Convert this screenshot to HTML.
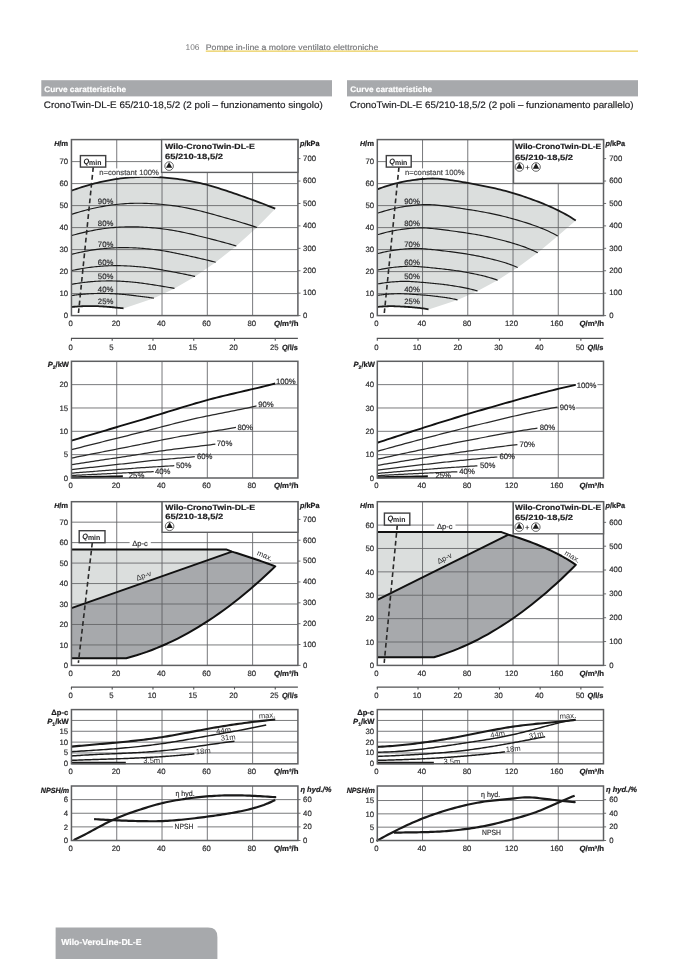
<!DOCTYPE html>
<html><head><meta charset="utf-8"><title>Curve caratteristiche</title>
<style>
html,body{margin:0;padding:0;background:#fff;}
svg{display:block;will-change:transform;font-family:'Liberation Sans', sans-serif;}
</style></head>
<body>
<svg width="678" height="959" viewBox="0 0 678 959" text-rendering="geometricPrecision">
<rect x="0" y="0" width="678" height="959" fill="#fff"/>
<text x="185.50" y="49.80" font-size="8.4" font-weight="normal" font-style="normal" text-anchor="start" fill="#77787b"  >106</text>
<text x="205.80" y="49.80" font-size="8.0" font-weight="normal" font-style="normal" text-anchor="start" fill="#77787b" stroke="#77787b" stroke-width="0.18" textLength="172.5" lengthAdjust="spacingAndGlyphs">Pompe in-line a motore ventilato elettroniche</text>
<rect x="205.8" y="50.5" width="432.2" height="1.3" fill="#ecd060"/>
<rect x="41.3" y="80.2" width="290.7" height="16.2" fill="#a7a9ac"/>
<text x="44.30" y="92.30" font-size="8.0" font-weight="bold" font-style="normal" text-anchor="start" fill="#fff" stroke="#fff" stroke-width="0.18" textLength="81.7" lengthAdjust="spacingAndGlyphs">Curve caratteristiche</text>
<text x="43.80" y="108.40" font-size="9.4" font-weight="normal" font-style="normal" text-anchor="start" fill="#1e1e20" stroke="#1e1e20" stroke-width="0.18" textLength="279.0" lengthAdjust="spacingAndGlyphs">CronoTwin-DL-E 65/210-18,5/2 (2 poli – funzionamento singolo)</text>
<rect x="347" y="80.2" width="291" height="16.2" fill="#a7a9ac"/>
<text x="350.30" y="92.30" font-size="8.0" font-weight="bold" font-style="normal" text-anchor="start" fill="#fff" stroke="#fff" stroke-width="0.18" textLength="81.7" lengthAdjust="spacingAndGlyphs">Curve caratteristiche</text>
<text x="349.80" y="108.40" font-size="9.4" font-weight="normal" font-style="normal" text-anchor="start" fill="#1e1e20" stroke="#1e1e20" stroke-width="0.18" textLength="283.8" lengthAdjust="spacingAndGlyphs">CronoTwin-DL-E 65/210-18,5/2 (2 poli – funzionamento parallelo)</text>
<path d="M71.45,190.64 L74.03,189.73 L76.61,188.84 L79.19,187.98 L81.77,187.15 L84.35,186.35 L86.93,185.58 L89.51,184.84 L92.09,184.13 L94.67,183.45 L97.25,182.80 L99.83,182.19 L102.41,181.61 L104.99,181.05 L107.57,180.54 L110.15,180.06 L112.73,179.61 L115.31,179.19 L117.89,178.82 L120.47,178.47 L123.05,178.17 L125.63,177.89 L128.21,177.66 L130.79,177.45 L133.37,177.28 L135.95,177.14 L138.53,177.03 L141.10,176.95 L143.68,176.91 L146.26,176.89 L148.84,176.90 L151.42,176.95 L154.00,177.02 L156.58,177.13 L159.16,177.26 L161.74,177.42 L164.32,177.61 L166.90,177.83 L169.48,178.07 L172.06,178.35 L174.64,178.65 L177.22,178.98 L179.80,179.33 L182.38,179.72 L184.96,180.13 L187.54,180.57 L190.12,181.03 L192.70,181.53 L195.28,182.05 L197.86,182.61 L200.44,183.19 L203.02,183.81 L205.60,184.47 L208.18,185.15 L210.76,185.87 L213.34,186.62 L215.92,187.40 L218.50,188.20 L221.08,189.02 L223.66,189.86 L226.24,190.71 L228.82,191.57 L231.40,192.44 L233.98,193.32 L236.56,194.20 L239.14,195.09 L241.72,195.99 L244.30,196.89 L246.88,197.81 L249.46,198.73 L252.04,199.67 L254.62,200.62 L257.20,201.58 L259.78,202.55 L262.36,203.53 L264.94,204.53 L267.52,205.55 L270.10,206.57 L272.68,207.62 L275.25,208.68 L256.91,227.44 L236.31,245.95 L215.70,262.27 L195.09,276.42 L174.48,288.39 L153.88,298.19 L123.53,308.39 L122.40,308.25 L121.76,308.18 L121.11,308.11 L120.47,308.04 L119.82,307.97 L119.18,307.90 L118.53,307.83 L117.89,307.77 L117.24,307.70 L116.60,307.64 L115.95,307.57 L115.31,307.51 L114.66,307.44 L114.02,307.38 L113.37,307.32 L112.73,307.26 L112.08,307.20 L111.44,307.14 L110.79,307.08 L110.15,307.02 L109.50,306.96 L108.86,306.90 L108.21,306.85 L107.57,306.79 L106.92,306.74 L106.28,306.69 L105.63,306.64 L104.99,306.59 L104.34,306.55 L103.70,306.50 L103.05,306.46 L102.41,306.43 L101.76,306.39 L101.12,306.36 L100.47,306.32 L99.83,306.29 L99.18,306.26 L98.54,306.24 L97.89,306.21 L97.25,306.19 L96.60,306.17 L95.96,306.15 L95.31,306.14 L94.67,306.12 L94.02,306.11 L93.38,306.10 L92.73,306.09 L92.09,306.08 L91.44,306.07 L90.80,306.07 L90.15,306.07 L89.51,306.07 L88.86,306.07 L88.22,306.08 L87.57,306.09 L86.93,306.10 L86.28,306.11 L85.64,306.12 L84.99,306.14 L84.35,306.16 L83.70,306.18 L83.06,306.20 L82.41,306.23 L81.77,306.26 L81.12,306.29 L80.48,306.32 L79.83,306.36 L79.19,306.39 L78.54,306.43 L77.90,306.48 L77.25,306.52 L76.61,306.57 L75.96,306.62 L75.32,306.67 L74.67,306.72 L74.03,306.78 L73.38,306.83 L72.74,306.89 L72.09,306.95 L71.45,307.02 Z" fill="#dbdedd"/>
<line x1="116.74" y1="139.60" x2="116.74" y2="315.60" stroke="#56575a" stroke-width="0.8"/>
<line x1="162.03" y1="139.60" x2="162.03" y2="315.60" stroke="#56575a" stroke-width="0.8"/>
<line x1="207.32" y1="139.60" x2="207.32" y2="315.60" stroke="#56575a" stroke-width="0.8"/>
<line x1="252.61" y1="139.60" x2="252.61" y2="315.60" stroke="#56575a" stroke-width="0.8"/>
<line x1="71.45" y1="293.60" x2="297.90" y2="293.60" stroke="#626366" stroke-width="0.85"/>
<line x1="71.45" y1="271.60" x2="297.90" y2="271.60" stroke="#626366" stroke-width="0.85"/>
<line x1="71.45" y1="249.60" x2="297.90" y2="249.60" stroke="#626366" stroke-width="0.85"/>
<line x1="71.45" y1="227.60" x2="297.90" y2="227.60" stroke="#626366" stroke-width="0.85"/>
<line x1="71.45" y1="205.60" x2="297.90" y2="205.60" stroke="#626366" stroke-width="0.85"/>
<line x1="71.45" y1="183.60" x2="297.90" y2="183.60" stroke="#626366" stroke-width="0.85"/>
<line x1="71.45" y1="161.60" x2="297.90" y2="161.60" stroke="#626366" stroke-width="0.85"/>
<path d="M71.45,190.64 L74.03,189.73 L76.61,188.84 L79.19,187.98 L81.77,187.15 L84.35,186.35 L86.93,185.58 L89.51,184.84 L92.09,184.13 L94.67,183.45 L97.25,182.80 L99.83,182.19 L102.41,181.61 L104.99,181.05 L107.57,180.54 L110.15,180.06 L112.73,179.61 L115.31,179.19 L117.89,178.82 L120.47,178.47 L123.05,178.17 L125.63,177.89 L128.21,177.66 L130.79,177.45 L133.37,177.28 L135.95,177.14 L138.53,177.03 L141.10,176.95 L143.68,176.91 L146.26,176.89 L148.84,176.90 L151.42,176.95 L154.00,177.02 L156.58,177.13 L159.16,177.26 L161.74,177.42 L164.32,177.61 L166.90,177.83 L169.48,178.07 L172.06,178.35 L174.64,178.65 L177.22,178.98 L179.80,179.33 L182.38,179.72 L184.96,180.13 L187.54,180.57 L190.12,181.03 L192.70,181.53 L195.28,182.05 L197.86,182.61 L200.44,183.19 L203.02,183.81 L205.60,184.47 L208.18,185.15 L210.76,185.87 L213.34,186.62 L215.92,187.40 L218.50,188.20 L221.08,189.02 L223.66,189.86 L226.24,190.71 L228.82,191.57 L231.40,192.44 L233.98,193.32 L236.56,194.20 L239.14,195.09 L241.72,195.99 L244.30,196.89 L246.88,197.81 L249.46,198.73 L252.04,199.67 L254.62,200.62 L257.20,201.58 L259.78,202.55 L262.36,203.53 L264.94,204.53 L267.52,205.55 L270.10,206.57 L272.68,207.62 L275.25,208.68" fill="none" stroke="#1a1a1a" stroke-width="1.8" stroke-linecap="butt" stroke-linejoin="round"/>
<path d="M71.45,214.38 L73.80,213.63 L76.15,212.91 L78.49,212.21 L80.84,211.53 L83.19,210.87 L85.54,210.24 L87.88,209.64 L90.23,209.06 L92.58,208.51 L94.93,207.98 L97.27,207.48 L99.62,207.00 L101.97,206.56 L104.32,206.14 L106.66,205.75 L109.01,205.38 L111.36,205.05 L113.71,204.75 L116.05,204.47 L118.40,204.23 L120.75,204.01 L123.10,203.82 L125.45,203.66 L127.79,203.53 L130.14,203.42 L132.49,203.34 L134.84,203.28 L137.18,203.25 L139.53,203.25 L141.88,203.27 L144.23,203.31 L146.57,203.38 L148.92,203.47 L151.27,203.59 L153.62,203.73 L155.96,203.89 L158.31,204.08 L160.66,204.28 L163.01,204.51 L165.36,204.75 L167.70,205.02 L170.05,205.30 L172.40,205.61 L174.75,205.94 L177.09,206.28 L179.44,206.65 L181.79,207.04 L184.14,207.45 L186.48,207.89 L188.83,208.35 L191.18,208.84 L193.53,209.35 L195.87,209.88 L198.22,210.44 L200.57,211.03 L202.92,211.62 L205.26,212.24 L207.61,212.87 L209.96,213.51 L212.31,214.15 L214.66,214.80 L217.00,215.45 L219.35,216.11 L221.70,216.77 L224.05,217.43 L226.39,218.10 L228.74,218.77 L231.09,219.45 L233.44,220.13 L235.78,220.82 L238.13,221.52 L240.48,222.23 L242.83,222.94 L245.17,223.67 L247.52,224.40 L249.87,225.15 L252.22,225.90 L254.56,226.67 L256.91,227.44" fill="none" stroke="#1a1a1a" stroke-width="1.15" stroke-linecap="butt" stroke-linejoin="round"/>
<path d="M71.45,235.63 L73.54,235.03 L75.62,234.46 L77.71,233.91 L79.80,233.37 L81.88,232.85 L83.97,232.36 L86.06,231.88 L88.14,231.42 L90.23,230.98 L92.32,230.57 L94.40,230.17 L96.49,229.80 L98.58,229.44 L100.66,229.11 L102.75,228.80 L104.84,228.52 L106.93,228.25 L109.01,228.01 L111.10,227.80 L113.19,227.60 L115.27,227.43 L117.36,227.28 L119.45,227.15 L121.53,227.05 L123.62,226.96 L125.71,226.90 L127.79,226.85 L129.88,226.83 L131.97,226.83 L134.05,226.84 L136.14,226.88 L138.23,226.93 L140.31,227.01 L142.40,227.10 L144.49,227.21 L146.57,227.34 L148.66,227.48 L150.75,227.64 L152.83,227.82 L154.92,228.02 L157.01,228.23 L159.09,228.45 L161.18,228.69 L163.27,228.95 L165.36,229.23 L167.44,229.52 L169.53,229.83 L171.62,230.15 L173.70,230.50 L175.79,230.86 L177.88,231.24 L179.96,231.65 L182.05,232.07 L184.14,232.51 L186.22,232.97 L188.31,233.45 L190.40,233.93 L192.48,234.43 L194.57,234.93 L196.66,235.44 L198.74,235.96 L200.83,236.47 L202.92,236.99 L205.00,237.51 L207.09,238.03 L209.18,238.56 L211.26,239.09 L213.35,239.63 L215.44,240.17 L217.52,240.71 L219.61,241.27 L221.70,241.82 L223.78,242.39 L225.87,242.96 L227.96,243.54 L230.05,244.13 L232.13,244.73 L234.22,245.33 L236.31,245.95" fill="none" stroke="#1a1a1a" stroke-width="1.15" stroke-linecap="butt" stroke-linejoin="round"/>
<path d="M71.45,254.37 L73.28,253.92 L75.10,253.48 L76.93,253.05 L78.75,252.64 L80.58,252.25 L82.41,251.87 L84.23,251.50 L86.06,251.15 L87.88,250.81 L89.71,250.50 L91.54,250.19 L93.36,249.91 L95.19,249.64 L97.01,249.38 L98.84,249.15 L100.66,248.93 L102.49,248.72 L104.32,248.54 L106.14,248.38 L107.97,248.23 L109.79,248.10 L111.62,247.98 L113.45,247.88 L115.27,247.80 L117.10,247.74 L118.92,247.69 L120.75,247.65 L122.58,247.64 L124.40,247.63 L126.23,247.65 L128.05,247.67 L129.88,247.71 L131.71,247.77 L133.53,247.84 L135.36,247.93 L137.18,248.02 L139.01,248.14 L140.84,248.26 L142.66,248.39 L144.49,248.54 L146.31,248.70 L148.14,248.88 L149.97,249.06 L151.79,249.26 L153.62,249.47 L155.44,249.69 L157.27,249.93 L159.09,250.18 L160.92,250.44 L162.75,250.72 L164.57,251.01 L166.40,251.32 L168.22,251.65 L170.05,251.99 L171.88,252.34 L173.70,252.70 L175.53,253.07 L177.35,253.45 L179.18,253.84 L181.01,254.23 L182.83,254.62 L184.66,255.02 L186.48,255.41 L188.31,255.81 L190.14,256.21 L191.96,256.62 L193.79,257.02 L195.61,257.43 L197.44,257.85 L199.27,258.27 L201.09,258.69 L202.92,259.12 L204.74,259.55 L206.57,259.99 L208.39,260.43 L210.22,260.88 L212.05,261.34 L213.87,261.80 L215.70,262.27" fill="none" stroke="#1a1a1a" stroke-width="1.15" stroke-linecap="butt" stroke-linejoin="round"/>
<path d="M71.45,270.61 L73.02,270.28 L74.58,269.96 L76.15,269.65 L77.71,269.35 L79.28,269.06 L80.84,268.78 L82.41,268.51 L83.97,268.25 L85.54,268.00 L87.10,267.77 L88.67,267.55 L90.23,267.33 L91.80,267.14 L93.36,266.95 L94.93,266.78 L96.49,266.62 L98.06,266.47 L99.62,266.33 L101.19,266.21 L102.75,266.10 L104.32,266.00 L105.88,265.92 L107.45,265.85 L109.01,265.79 L110.58,265.74 L112.14,265.71 L113.71,265.68 L115.27,265.67 L116.84,265.67 L118.40,265.67 L119.97,265.69 L121.53,265.72 L123.10,265.77 L124.66,265.82 L126.23,265.88 L127.79,265.95 L129.36,266.03 L130.92,266.12 L132.49,266.22 L134.05,266.33 L135.62,266.45 L137.18,266.58 L138.75,266.72 L140.31,266.86 L141.88,267.01 L143.44,267.18 L145.01,267.35 L146.57,267.54 L148.14,267.73 L149.70,267.93 L151.27,268.15 L152.83,268.38 L154.40,268.61 L155.96,268.86 L157.53,269.12 L159.09,269.39 L160.66,269.66 L162.22,269.94 L163.79,270.22 L165.36,270.51 L166.92,270.80 L168.49,271.09 L170.05,271.38 L171.62,271.67 L173.18,271.97 L174.75,272.26 L176.31,272.56 L177.88,272.87 L179.44,273.17 L181.01,273.48 L182.57,273.79 L184.14,274.10 L185.70,274.42 L187.27,274.74 L188.83,275.07 L190.40,275.40 L191.96,275.73 L193.53,276.07 L195.09,276.42" fill="none" stroke="#1a1a1a" stroke-width="1.15" stroke-linecap="butt" stroke-linejoin="round"/>
<path d="M71.45,284.36 L72.75,284.13 L74.06,283.91 L75.36,283.69 L76.67,283.48 L77.97,283.28 L79.28,283.08 L80.58,282.90 L81.88,282.72 L83.19,282.55 L84.49,282.38 L85.80,282.23 L87.10,282.08 L88.41,281.94 L89.71,281.82 L91.01,281.69 L92.32,281.58 L93.62,281.48 L94.93,281.39 L96.23,281.30 L97.53,281.23 L98.84,281.16 L100.14,281.10 L101.45,281.05 L102.75,281.01 L104.06,280.98 L105.36,280.95 L106.66,280.93 L107.97,280.92 L109.27,280.92 L110.58,280.93 L111.88,280.94 L113.19,280.96 L114.49,280.99 L115.79,281.03 L117.10,281.07 L118.40,281.12 L119.71,281.18 L121.01,281.24 L122.32,281.31 L123.62,281.39 L124.92,281.47 L126.23,281.56 L127.53,281.65 L128.84,281.75 L130.14,281.86 L131.44,281.97 L132.75,282.09 L134.05,282.22 L135.36,282.36 L136.66,282.50 L137.97,282.65 L139.27,282.81 L140.57,282.97 L141.88,283.14 L143.18,283.32 L144.49,283.51 L145.79,283.70 L147.10,283.89 L148.40,284.09 L149.70,284.29 L151.01,284.49 L152.31,284.69 L153.62,284.89 L154.92,285.10 L156.23,285.30 L157.53,285.51 L158.83,285.71 L160.14,285.92 L161.44,286.13 L162.75,286.35 L164.05,286.56 L165.36,286.78 L166.66,287.00 L167.96,287.23 L169.27,287.45 L170.57,287.68 L171.88,287.91 L173.18,288.15 L174.48,288.39" fill="none" stroke="#1a1a1a" stroke-width="1.15" stroke-linecap="butt" stroke-linejoin="round"/>
<path d="M71.45,295.61 L72.49,295.46 L73.54,295.32 L74.58,295.18 L75.62,295.04 L76.67,294.91 L77.71,294.79 L78.75,294.67 L79.80,294.56 L80.84,294.45 L81.88,294.34 L82.93,294.24 L83.97,294.15 L85.01,294.06 L86.06,293.98 L87.10,293.90 L88.14,293.83 L89.19,293.76 L90.23,293.70 L91.27,293.65 L92.32,293.60 L93.36,293.56 L94.40,293.52 L95.45,293.49 L96.49,293.46 L97.53,293.44 L98.58,293.42 L99.62,293.41 L100.66,293.41 L101.71,293.41 L102.75,293.41 L103.80,293.42 L104.84,293.43 L105.88,293.45 L106.93,293.47 L107.97,293.50 L109.01,293.53 L110.06,293.57 L111.10,293.61 L112.14,293.66 L113.19,293.70 L114.23,293.76 L115.27,293.81 L116.32,293.87 L117.36,293.94 L118.40,294.01 L119.45,294.08 L120.49,294.16 L121.53,294.24 L122.58,294.32 L123.62,294.41 L124.66,294.51 L125.71,294.61 L126.75,294.72 L127.79,294.83 L128.84,294.94 L129.88,295.06 L130.92,295.18 L131.97,295.31 L133.01,295.43 L134.05,295.56 L135.10,295.69 L136.14,295.82 L137.18,295.95 L138.23,296.08 L139.27,296.21 L140.31,296.34 L141.36,296.47 L142.40,296.61 L143.44,296.74 L144.49,296.88 L145.53,297.02 L146.57,297.16 L147.62,297.30 L148.66,297.44 L149.70,297.59 L150.75,297.73 L151.79,297.88 L152.83,298.03 L153.88,298.19" fill="none" stroke="#1a1a1a" stroke-width="1.15" stroke-linecap="butt" stroke-linejoin="round"/>
<path d="M71.45,307.02 L72.79,306.89 L74.12,306.77 L75.46,306.66 L76.79,306.55 L78.13,306.46 L79.46,306.38 L80.80,306.30 L82.13,306.24 L83.47,306.19 L84.80,306.14 L86.14,306.11 L87.48,306.09 L88.81,306.08 L90.15,306.07 L91.48,306.07 L92.82,306.09 L94.15,306.11 L95.49,306.14 L96.82,306.18 L98.16,306.22 L99.49,306.28 L100.83,306.34 L102.17,306.41 L103.50,306.49 L104.84,306.58 L106.17,306.68 L107.51,306.79 L108.84,306.90 L110.18,307.02 L111.51,307.15 L112.85,307.27 L114.19,307.40 L115.52,307.53 L116.86,307.66 L118.19,307.80 L119.53,307.94 L120.86,308.08 L122.20,308.23 L123.53,308.39" fill="none" stroke="#1a1a1a" stroke-width="1.8" stroke-linecap="butt" stroke-linejoin="round"/>
<rect x="71.45" y="139.60" width="226.45" height="176.00" fill="none" stroke="#5e5f61" stroke-width="1.5"/>
<rect x="161.60" y="139.60" width="136.30" height="32.80" fill="#fff" stroke="#5e5f61" stroke-width="1.4"/>
<text x="165.00" y="148.70" font-size="7.7" font-weight="bold" font-style="normal" text-anchor="start" fill="#1a1a1c" stroke="#1a1a1c" stroke-width="0.18" textLength="89.8" lengthAdjust="spacingAndGlyphs">Wilo-CronoTwin-DL-E</text>
<text x="165.00" y="158.80" font-size="7.7" font-weight="bold" font-style="normal" text-anchor="start" fill="#1a1a1c" stroke="#1a1a1c" stroke-width="0.18" textLength="58.0" lengthAdjust="spacingAndGlyphs">65/210-18,5/2</text>
<circle cx="169.10" cy="166.10" r="4.3" fill="#fff" stroke="#333" stroke-width="0.75"/>
<path d="M169.10,162.15 L172.28,167.82 L165.92,167.82 Z" fill="#1a1a1a"/>
<line x1="93.25" y1="167.10" x2="78.47" y2="313.00" stroke="#2a2a2a" stroke-width="1.6" stroke-dasharray="4.8 3.09"/>
<rect x="80.40" y="155.60" width="25.30" height="11.50" fill="#fff" stroke="#404042" stroke-width="1.4"/>
<text x="83.40" y="163.50" font-size="7.8" font-weight="bold" fill="#1c1c1e" textLength="18" lengthAdjust="spacingAndGlyphs"><tspan font-style="italic">Q</tspan><tspan dy="1.2" font-size="7.4">min</tspan></text>
<text x="97.85" y="204.30" font-size="7.75" font-weight="normal" font-style="normal" text-anchor="start" fill="#2c2c2e" stroke="#2c2c2e" stroke-width="0.18" >90%</text>
<text x="97.85" y="226.00" font-size="7.75" font-weight="normal" font-style="normal" text-anchor="start" fill="#2c2c2e" stroke="#2c2c2e" stroke-width="0.18" >80%</text>
<text x="97.85" y="246.60" font-size="7.75" font-weight="normal" font-style="normal" text-anchor="start" fill="#2c2c2e" stroke="#2c2c2e" stroke-width="0.18" >70%</text>
<text x="97.85" y="264.60" font-size="7.75" font-weight="normal" font-style="normal" text-anchor="start" fill="#2c2c2e" stroke="#2c2c2e" stroke-width="0.18" >60%</text>
<text x="97.85" y="279.20" font-size="7.75" font-weight="normal" font-style="normal" text-anchor="start" fill="#2c2c2e" stroke="#2c2c2e" stroke-width="0.18" >50%</text>
<text x="97.85" y="291.60" font-size="7.75" font-weight="normal" font-style="normal" text-anchor="start" fill="#2c2c2e" stroke="#2c2c2e" stroke-width="0.18" >40%</text>
<text x="97.85" y="304.40" font-size="7.75" font-weight="normal" font-style="normal" text-anchor="start" fill="#2c2c2e" stroke="#2c2c2e" stroke-width="0.18" >25%</text>
<rect x="98.40" y="168.4" width="61.2" height="8.4" fill="#fff"/>
<text x="99.20" y="174.80" font-size="7.7" font-weight="normal" font-style="normal" text-anchor="start" fill="#48484a" stroke="#48484a" stroke-width="0.18" textLength="59.6" lengthAdjust="spacingAndGlyphs">n=constant 100%</text>
<text x="68.15" y="318.40" font-size="7.75" font-weight="normal" font-style="normal" text-anchor="end" fill="#2c2c2e" stroke="#2c2c2e" stroke-width="0.18" >0</text>
<text x="68.15" y="296.40" font-size="7.75" font-weight="normal" font-style="normal" text-anchor="end" fill="#2c2c2e" stroke="#2c2c2e" stroke-width="0.18" >10</text>
<text x="68.15" y="274.40" font-size="7.75" font-weight="normal" font-style="normal" text-anchor="end" fill="#2c2c2e" stroke="#2c2c2e" stroke-width="0.18" >20</text>
<text x="68.15" y="252.40" font-size="7.75" font-weight="normal" font-style="normal" text-anchor="end" fill="#2c2c2e" stroke="#2c2c2e" stroke-width="0.18" >30</text>
<text x="68.15" y="230.40" font-size="7.75" font-weight="normal" font-style="normal" text-anchor="end" fill="#2c2c2e" stroke="#2c2c2e" stroke-width="0.18" >40</text>
<text x="68.15" y="208.40" font-size="7.75" font-weight="normal" font-style="normal" text-anchor="end" fill="#2c2c2e" stroke="#2c2c2e" stroke-width="0.18" >50</text>
<text x="68.15" y="186.40" font-size="7.75" font-weight="normal" font-style="normal" text-anchor="end" fill="#2c2c2e" stroke="#2c2c2e" stroke-width="0.18" >60</text>
<text x="68.15" y="164.40" font-size="7.75" font-weight="normal" font-style="normal" text-anchor="end" fill="#2c2c2e" stroke="#2c2c2e" stroke-width="0.18" >70</text>
<text x="68.15" y="145.80" font-size="7.5" font-weight="bold" font-style="normal" text-anchor="end" fill="#1c1c1e" stroke="#1c1c1e" stroke-width="0.22" textLength="14.0" lengthAdjust="spacingAndGlyphs"><tspan font-style="italic" font-size="6.9">H</tspan>/m</text>
<text x="300.00" y="145.50" font-size="7.5" font-weight="bold" font-style="normal" text-anchor="start" fill="#1c1c1e" stroke="#1c1c1e" stroke-width="0.22" textLength="19.5" lengthAdjust="spacingAndGlyphs"><tspan font-style="italic">p</tspan>/kPa</text>
<line x1="297.90" y1="315.60" x2="300.50" y2="315.60" stroke="#5e5f61" stroke-width="0.9"/>
<text x="303.10" y="317.90" font-size="7.75" font-weight="normal" font-style="normal" text-anchor="start" fill="#2c2c2e" stroke="#2c2c2e" stroke-width="0.18" >0</text>
<line x1="297.90" y1="293.17" x2="300.50" y2="293.17" stroke="#5e5f61" stroke-width="0.9"/>
<text x="303.10" y="295.47" font-size="7.75" font-weight="normal" font-style="normal" text-anchor="start" fill="#2c2c2e" stroke="#2c2c2e" stroke-width="0.18" >100</text>
<line x1="297.90" y1="270.75" x2="300.50" y2="270.75" stroke="#5e5f61" stroke-width="0.9"/>
<text x="303.10" y="273.05" font-size="7.75" font-weight="normal" font-style="normal" text-anchor="start" fill="#2c2c2e" stroke="#2c2c2e" stroke-width="0.18" >200</text>
<line x1="297.90" y1="248.32" x2="300.50" y2="248.32" stroke="#5e5f61" stroke-width="0.9"/>
<text x="303.10" y="250.62" font-size="7.75" font-weight="normal" font-style="normal" text-anchor="start" fill="#2c2c2e" stroke="#2c2c2e" stroke-width="0.18" >300</text>
<line x1="297.90" y1="225.89" x2="300.50" y2="225.89" stroke="#5e5f61" stroke-width="0.9"/>
<text x="303.10" y="228.19" font-size="7.75" font-weight="normal" font-style="normal" text-anchor="start" fill="#2c2c2e" stroke="#2c2c2e" stroke-width="0.18" >400</text>
<line x1="297.90" y1="203.47" x2="300.50" y2="203.47" stroke="#5e5f61" stroke-width="0.9"/>
<text x="303.10" y="205.77" font-size="7.75" font-weight="normal" font-style="normal" text-anchor="start" fill="#2c2c2e" stroke="#2c2c2e" stroke-width="0.18" >500</text>
<line x1="297.90" y1="181.04" x2="300.50" y2="181.04" stroke="#5e5f61" stroke-width="0.9"/>
<text x="303.10" y="183.34" font-size="7.75" font-weight="normal" font-style="normal" text-anchor="start" fill="#2c2c2e" stroke="#2c2c2e" stroke-width="0.18" >600</text>
<line x1="297.90" y1="158.61" x2="300.50" y2="158.61" stroke="#5e5f61" stroke-width="0.9"/>
<text x="303.10" y="160.91" font-size="7.75" font-weight="normal" font-style="normal" text-anchor="start" fill="#2c2c2e" stroke="#2c2c2e" stroke-width="0.18" >700</text>
<text x="70.65" y="326.00" font-size="7.75" font-weight="normal" font-style="normal" text-anchor="middle" fill="#2c2c2e" stroke="#2c2c2e" stroke-width="0.18" >0</text>
<text x="115.94" y="326.00" font-size="7.75" font-weight="normal" font-style="normal" text-anchor="middle" fill="#2c2c2e" stroke="#2c2c2e" stroke-width="0.18" >20</text>
<text x="161.23" y="326.00" font-size="7.75" font-weight="normal" font-style="normal" text-anchor="middle" fill="#2c2c2e" stroke="#2c2c2e" stroke-width="0.18" >40</text>
<text x="206.52" y="326.00" font-size="7.75" font-weight="normal" font-style="normal" text-anchor="middle" fill="#2c2c2e" stroke="#2c2c2e" stroke-width="0.18" >60</text>
<text x="251.81" y="326.00" font-size="7.75" font-weight="normal" font-style="normal" text-anchor="middle" fill="#2c2c2e" stroke="#2c2c2e" stroke-width="0.18" >80</text>
<text x="298.50" y="325.70" font-size="7.5" font-weight="bold" font-style="normal" text-anchor="end" fill="#1c1c1e" stroke="#1c1c1e" stroke-width="0.22" textLength="24.6" lengthAdjust="spacingAndGlyphs"><tspan font-style="italic">Q</tspan>/m³/h</text>
<line x1="70.95" y1="338.40" x2="297.90" y2="338.40" stroke="#525355" stroke-width="1.25"/>
<line x1="71.45" y1="338.40" x2="71.45" y2="340.80" stroke="#525355" stroke-width="1.1"/>
<text x="70.55" y="349.70" font-size="7.75" font-weight="normal" font-style="normal" text-anchor="middle" fill="#2c2c2e" stroke="#2c2c2e" stroke-width="0.18" >0</text>
<line x1="112.21" y1="338.40" x2="112.21" y2="340.80" stroke="#525355" stroke-width="1.1"/>
<text x="111.31" y="349.70" font-size="7.75" font-weight="normal" font-style="normal" text-anchor="middle" fill="#2c2c2e" stroke="#2c2c2e" stroke-width="0.18" >5</text>
<line x1="152.97" y1="338.40" x2="152.97" y2="340.80" stroke="#525355" stroke-width="1.1"/>
<text x="152.07" y="349.70" font-size="7.75" font-weight="normal" font-style="normal" text-anchor="middle" fill="#2c2c2e" stroke="#2c2c2e" stroke-width="0.18" >10</text>
<line x1="193.73" y1="338.40" x2="193.73" y2="340.80" stroke="#525355" stroke-width="1.1"/>
<text x="192.83" y="349.70" font-size="7.75" font-weight="normal" font-style="normal" text-anchor="middle" fill="#2c2c2e" stroke="#2c2c2e" stroke-width="0.18" >15</text>
<line x1="234.49" y1="338.40" x2="234.49" y2="340.80" stroke="#525355" stroke-width="1.1"/>
<text x="233.59" y="349.70" font-size="7.75" font-weight="normal" font-style="normal" text-anchor="middle" fill="#2c2c2e" stroke="#2c2c2e" stroke-width="0.18" >20</text>
<line x1="275.25" y1="338.40" x2="275.25" y2="340.80" stroke="#525355" stroke-width="1.1"/>
<text x="274.36" y="349.70" font-size="7.75" font-weight="normal" font-style="normal" text-anchor="middle" fill="#2c2c2e" stroke="#2c2c2e" stroke-width="0.18" >25</text>
<text x="297.80" y="349.70" font-size="7.5" font-weight="bold" font-style="normal" text-anchor="end" fill="#1c1c1e" stroke="#1c1c1e" stroke-width="0.22" textLength="15.9" lengthAdjust="spacingAndGlyphs"><tspan font-style="italic">Q</tspan>/l/s</text>
<line x1="116.74" y1="361.30" x2="116.74" y2="478.00" stroke="#56575a" stroke-width="0.8"/>
<line x1="162.03" y1="361.30" x2="162.03" y2="478.00" stroke="#56575a" stroke-width="0.8"/>
<line x1="207.32" y1="361.30" x2="207.32" y2="478.00" stroke="#56575a" stroke-width="0.8"/>
<line x1="252.61" y1="361.30" x2="252.61" y2="478.00" stroke="#56575a" stroke-width="0.8"/>
<line x1="71.45" y1="454.66" x2="297.90" y2="454.66" stroke="#626366" stroke-width="0.85"/>
<line x1="71.45" y1="431.32" x2="297.90" y2="431.32" stroke="#626366" stroke-width="0.85"/>
<line x1="71.45" y1="407.98" x2="297.90" y2="407.98" stroke="#626366" stroke-width="0.85"/>
<line x1="71.45" y1="384.64" x2="297.90" y2="384.64" stroke="#626366" stroke-width="0.85"/>
<path d="M71.45,440.66 L74.90,439.60 L78.36,438.55 L81.81,437.50 L85.27,436.46 L88.72,435.42 L92.18,434.39 L95.63,433.36 L99.08,432.33 L102.54,431.31 L105.99,430.29 L109.45,429.27 L112.90,428.25 L116.36,427.23 L119.81,426.21 L123.26,425.19 L126.72,424.17 L130.17,423.15 L133.63,422.13 L137.08,421.10 L140.54,420.08 L143.99,419.04 L147.45,418.01 L150.90,416.97 L154.35,415.92 L157.81,414.87 L161.26,413.82 L164.72,412.75 L168.17,411.69 L171.63,410.62 L175.08,409.55 L178.53,408.48 L181.99,407.42 L185.44,406.37 L188.90,405.33 L192.35,404.30 L195.81,403.28 L199.26,402.29 L202.71,401.31 L206.17,400.36 L209.62,399.43 L213.08,398.52 L216.53,397.64 L219.99,396.77 L223.44,395.93 L226.89,395.09 L230.35,394.27 L233.80,393.46 L237.26,392.65 L240.71,391.85 L244.17,391.04 L247.62,390.24 L251.07,389.43 L254.53,388.62 L257.98,387.80 L261.44,386.97 L264.89,386.12 L268.35,385.26 L271.80,384.38 L275.25,383.47" fill="none" stroke="#111" stroke-width="1.9" stroke-linecap="butt" stroke-linejoin="round"/>
<path d="M71.45,449.69 L74.59,448.88 L77.72,448.07 L80.86,447.27 L84.00,446.48 L87.13,445.68 L90.27,444.90 L93.41,444.11 L96.54,443.32 L99.68,442.54 L102.82,441.76 L105.95,440.98 L109.09,440.20 L112.22,439.42 L115.36,438.64 L118.50,437.86 L121.63,437.08 L124.77,436.30 L127.91,435.52 L131.04,434.73 L134.18,433.95 L137.32,433.16 L140.45,432.36 L143.59,431.57 L146.73,430.77 L149.86,429.96 L153.00,429.15 L156.14,428.34 L159.27,427.52 L162.41,426.71 L165.55,425.89 L168.68,425.07 L171.82,424.26 L174.96,423.46 L178.09,422.67 L181.23,421.88 L184.36,421.11 L187.50,420.35 L190.64,419.61 L193.77,418.89 L196.91,418.18 L200.05,417.50 L203.18,416.83 L206.32,416.17 L209.46,415.53 L212.59,414.89 L215.73,414.27 L218.87,413.65 L222.00,413.03 L225.14,412.42 L228.28,411.80 L231.41,411.19 L234.55,410.57 L237.69,409.94 L240.82,409.31 L243.96,408.67 L247.10,408.02 L250.23,407.35 L253.37,406.67 L256.50,405.97" fill="none" stroke="#2a2a2a" stroke-width="1.25" stroke-linecap="butt" stroke-linejoin="round"/>
<path d="M71.45,458.12 L74.24,457.55 L77.03,456.98 L79.81,456.42 L82.60,455.86 L85.39,455.30 L88.18,454.75 L90.97,454.20 L93.75,453.65 L96.54,453.10 L99.33,452.55 L102.12,452.00 L104.91,451.45 L107.69,450.90 L110.48,450.36 L113.27,449.81 L116.06,449.26 L118.85,448.71 L121.63,448.16 L124.42,447.61 L127.21,447.06 L130.00,446.50 L132.79,445.95 L135.57,445.39 L138.36,444.83 L141.15,444.26 L143.94,443.69 L146.73,443.12 L149.51,442.55 L152.30,441.97 L155.09,441.40 L157.88,440.83 L160.67,440.26 L163.45,439.70 L166.24,439.14 L169.03,438.59 L171.82,438.04 L174.61,437.51 L177.39,436.99 L180.18,436.48 L182.97,435.99 L185.76,435.51 L188.55,435.04 L191.33,434.58 L194.12,434.12 L196.91,433.68 L199.70,433.24 L202.49,432.80 L205.28,432.37 L208.06,431.94 L210.85,431.51 L213.64,431.08 L216.43,430.64 L219.22,430.20 L222.00,429.76 L224.79,429.31 L227.58,428.85 L230.37,428.38 L233.16,427.90 L235.94,427.41" fill="none" stroke="#2a2a2a" stroke-width="1.25" stroke-linecap="butt" stroke-linejoin="round"/>
<path d="M71.45,464.68 L73.89,464.30 L76.33,463.92 L78.77,463.54 L81.21,463.17 L83.65,462.80 L86.09,462.42 L88.53,462.05 L90.97,461.68 L93.41,461.32 L95.85,460.95 L98.28,460.58 L100.72,460.21 L103.16,459.85 L105.60,459.48 L108.04,459.11 L110.48,458.75 L112.92,458.38 L115.36,458.01 L117.80,457.64 L120.24,457.27 L122.68,456.90 L125.12,456.53 L127.56,456.15 L130.00,455.78 L132.44,455.40 L134.88,455.02 L137.32,454.63 L139.76,454.25 L142.20,453.87 L144.64,453.48 L147.08,453.10 L149.51,452.72 L151.95,452.34 L154.39,451.97 L156.83,451.60 L159.27,451.23 L161.71,450.88 L164.15,450.53 L166.59,450.19 L169.03,449.86 L171.47,449.53 L173.91,449.22 L176.35,448.91 L178.79,448.61 L181.23,448.31 L183.67,448.01 L186.11,447.72 L188.55,447.43 L190.99,447.14 L193.43,446.85 L195.87,446.56 L198.30,446.27 L200.74,445.98 L203.18,445.68 L205.62,445.38 L208.06,445.07 L210.50,444.76 L212.94,444.44 L215.38,444.11" fill="none" stroke="#2a2a2a" stroke-width="1.25" stroke-linecap="butt" stroke-linejoin="round"/>
<path d="M71.45,469.61 L73.54,469.37 L75.63,469.13 L77.72,468.90 L79.81,468.66 L81.91,468.43 L84.00,468.19 L86.09,467.96 L88.18,467.73 L90.27,467.49 L92.36,467.26 L94.45,467.03 L96.54,466.80 L98.63,466.57 L100.72,466.34 L102.82,466.11 L104.91,465.88 L107.00,465.64 L109.09,465.41 L111.18,465.18 L113.27,464.95 L115.36,464.71 L117.45,464.48 L119.54,464.24 L121.63,464.00 L123.73,463.77 L125.82,463.53 L127.91,463.29 L130.00,463.04 L132.09,462.80 L134.18,462.56 L136.27,462.32 L138.36,462.08 L140.45,461.84 L142.54,461.60 L144.64,461.37 L146.73,461.14 L148.82,460.92 L150.91,460.70 L153.00,460.49 L155.09,460.28 L157.18,460.07 L159.27,459.87 L161.36,459.68 L163.45,459.49 L165.55,459.30 L167.64,459.12 L169.73,458.93 L171.82,458.75 L173.91,458.57 L176.00,458.39 L178.09,458.20 L180.18,458.02 L182.27,457.84 L184.36,457.65 L186.46,457.46 L188.55,457.26 L190.64,457.07 L192.73,456.86 L194.82,456.66" fill="none" stroke="#2a2a2a" stroke-width="1.25" stroke-linecap="butt" stroke-linejoin="round"/>
<path d="M71.45,473.15 L73.19,473.01 L74.94,472.87 L76.68,472.73 L78.42,472.59 L80.16,472.46 L81.91,472.32 L83.65,472.19 L85.39,472.05 L87.13,471.92 L88.88,471.79 L90.62,471.65 L92.36,471.52 L94.10,471.38 L95.85,471.25 L97.59,471.12 L99.33,470.98 L101.07,470.85 L102.82,470.72 L104.56,470.58 L106.30,470.45 L108.04,470.31 L109.79,470.17 L111.53,470.04 L113.27,469.90 L115.01,469.76 L116.76,469.62 L118.50,469.48 L120.24,469.34 L121.98,469.20 L123.73,469.06 L125.47,468.92 L127.21,468.79 L128.95,468.65 L130.70,468.51 L132.44,468.38 L134.18,468.25 L135.92,468.12 L137.67,467.99 L139.41,467.86 L141.15,467.74 L142.89,467.63 L144.64,467.51 L146.38,467.40 L148.12,467.29 L149.86,467.18 L151.61,467.07 L153.35,466.97 L155.09,466.86 L156.83,466.75 L158.58,466.65 L160.32,466.54 L162.06,466.44 L163.80,466.33 L165.55,466.22 L167.29,466.11 L169.03,466.00 L170.77,465.89 L172.52,465.77 L174.26,465.65" fill="none" stroke="#2a2a2a" stroke-width="1.25" stroke-linecap="butt" stroke-linejoin="round"/>
<path d="M71.45,475.51 L72.84,475.44 L74.24,475.37 L75.63,475.30 L77.03,475.23 L78.42,475.16 L79.81,475.09 L81.21,475.02 L82.60,474.96 L84.00,474.89 L85.39,474.82 L86.78,474.75 L88.18,474.68 L89.57,474.61 L90.97,474.54 L92.36,474.48 L93.75,474.41 L95.15,474.34 L96.54,474.27 L97.94,474.20 L99.33,474.13 L100.72,474.06 L102.12,473.99 L103.51,473.92 L104.91,473.85 L106.30,473.78 L107.69,473.71 L109.09,473.64 L110.48,473.57 L111.88,473.50 L113.27,473.43 L114.66,473.35 L116.06,473.28 L117.45,473.21 L118.85,473.14 L120.24,473.07 L121.63,473.01 L123.03,472.94 L124.42,472.87 L125.82,472.81 L127.21,472.75 L128.60,472.69 L130.00,472.63 L131.39,472.57 L132.79,472.52 L134.18,472.46 L135.57,472.40 L136.97,472.35 L138.36,472.30 L139.76,472.24 L141.15,472.19 L142.54,472.13 L143.94,472.08 L145.33,472.03 L146.73,471.97 L148.12,471.91 L149.51,471.86 L150.91,471.80 L152.30,471.74 L153.70,471.68" fill="none" stroke="#2a2a2a" stroke-width="1.25" stroke-linecap="butt" stroke-linejoin="round"/>
<path d="M71.45,477.39 L77.16,477.28 L82.87,477.17 L88.58,477.06 L94.30,476.95 L100.01,476.83 L105.72,476.73 L111.43,476.64 L117.14,476.55 L122.85,476.46" fill="none" stroke="#111" stroke-width="2.2" stroke-linecap="butt" stroke-linejoin="round"/>
<rect x="71.45" y="361.30" width="226.45" height="116.70" fill="none" stroke="#5e5f61" stroke-width="1.5"/>
<text x="275.90" y="384.00" font-size="7.75" font-weight="normal" font-style="normal" text-anchor="start" fill="#2c2c2e" stroke="#2c2c2e" stroke-width="0.18" >100%</text>
<text x="258.20" y="407.30" font-size="7.75" font-weight="normal" font-style="normal" text-anchor="start" fill="#2c2c2e" stroke="#2c2c2e" stroke-width="0.18" >90%</text>
<text x="237.50" y="429.90" font-size="7.75" font-weight="normal" font-style="normal" text-anchor="start" fill="#2c2c2e" stroke="#2c2c2e" stroke-width="0.18" >80%</text>
<text x="216.80" y="446.30" font-size="7.75" font-weight="normal" font-style="normal" text-anchor="start" fill="#2c2c2e" stroke="#2c2c2e" stroke-width="0.18" >70%</text>
<text x="196.90" y="458.70" font-size="7.75" font-weight="normal" font-style="normal" text-anchor="start" fill="#2c2c2e" stroke="#2c2c2e" stroke-width="0.18" >60%</text>
<text x="176.00" y="468.20" font-size="7.75" font-weight="normal" font-style="normal" text-anchor="start" fill="#2c2c2e" stroke="#2c2c2e" stroke-width="0.18" >50%</text>
<text x="154.90" y="474.10" font-size="7.75" font-weight="normal" font-style="normal" text-anchor="start" fill="#2c2c2e" stroke="#2c2c2e" stroke-width="0.18" >40%</text>
<text x="128.80" y="478.20" font-size="7.75" font-weight="normal" font-style="normal" text-anchor="start" fill="#2c2c2e" stroke="#2c2c2e" stroke-width="0.18" >25%</text>
<text x="68.15" y="480.80" font-size="7.75" font-weight="normal" font-style="normal" text-anchor="end" fill="#2c2c2e" stroke="#2c2c2e" stroke-width="0.18" >0</text>
<text x="68.15" y="457.46" font-size="7.75" font-weight="normal" font-style="normal" text-anchor="end" fill="#2c2c2e" stroke="#2c2c2e" stroke-width="0.18" >5</text>
<text x="68.15" y="434.12" font-size="7.75" font-weight="normal" font-style="normal" text-anchor="end" fill="#2c2c2e" stroke="#2c2c2e" stroke-width="0.18" >10</text>
<text x="68.15" y="410.78" font-size="7.75" font-weight="normal" font-style="normal" text-anchor="end" fill="#2c2c2e" stroke="#2c2c2e" stroke-width="0.18" >15</text>
<text x="68.15" y="387.44" font-size="7.75" font-weight="normal" font-style="normal" text-anchor="end" fill="#2c2c2e" stroke="#2c2c2e" stroke-width="0.18" >20</text>
<text x="69.05" y="367.40" font-size="7.5" font-weight="bold" font-style="normal" text-anchor="end" fill="#1c1c1e" stroke="#1c1c1e" stroke-width="0.22" textLength="21.4" lengthAdjust="spacingAndGlyphs"><tspan font-style="italic">P</tspan><tspan font-size="5" dy="1.6">2</tspan><tspan dy="-1.6">/kW</tspan></text>
<text x="70.65" y="488.40" font-size="7.75" font-weight="normal" font-style="normal" text-anchor="middle" fill="#2c2c2e" stroke="#2c2c2e" stroke-width="0.18" >0</text>
<text x="115.94" y="488.40" font-size="7.75" font-weight="normal" font-style="normal" text-anchor="middle" fill="#2c2c2e" stroke="#2c2c2e" stroke-width="0.18" >20</text>
<text x="161.23" y="488.40" font-size="7.75" font-weight="normal" font-style="normal" text-anchor="middle" fill="#2c2c2e" stroke="#2c2c2e" stroke-width="0.18" >40</text>
<text x="206.52" y="488.40" font-size="7.75" font-weight="normal" font-style="normal" text-anchor="middle" fill="#2c2c2e" stroke="#2c2c2e" stroke-width="0.18" >60</text>
<text x="251.81" y="488.40" font-size="7.75" font-weight="normal" font-style="normal" text-anchor="middle" fill="#2c2c2e" stroke="#2c2c2e" stroke-width="0.18" >80</text>
<text x="298.50" y="488.10" font-size="7.5" font-weight="bold" font-style="normal" text-anchor="end" fill="#1c1c1e" stroke="#1c1c1e" stroke-width="0.22" textLength="24.6" lengthAdjust="spacingAndGlyphs"><tspan font-style="italic">Q</tspan>/m³/h</text>
<path d="M71.45,608.11 L232.00,551.63 L234.28,552.34 L236.56,553.05 L238.83,553.77 L241.11,554.50 L243.39,555.23 L245.66,555.97 L247.94,556.72 L250.21,557.47 L252.49,558.23 L254.77,559.00 L257.04,559.78 L259.32,560.56 L261.60,561.36 L263.87,562.17 L266.15,562.98 L268.43,563.81 L270.70,564.65 L272.98,565.50 L275.25,566.36 L270.12,571.29 L264.98,576.10 L259.84,580.78 L254.70,585.33 L249.57,589.76 L244.43,594.06 L239.29,598.23 L234.15,602.28 L229.01,606.20 L223.88,610.00 L218.74,613.67 L213.60,617.22 L208.46,620.64 L203.32,623.93 L198.19,627.10 L193.05,630.14 L187.91,633.06 L182.77,635.85 L177.63,638.52 L172.50,641.05 L167.36,643.47 L162.22,645.75 L157.08,647.92 L151.95,649.95 L146.81,651.86 L141.67,653.64 L136.53,655.30 L131.39,656.83 L126.26,658.24 L71.45,658.24 Z" fill="#a7a9ac"/>
<path d="M71.45,549.38 L226.12,549.38 L232.00,551.63 L71.45,608.11 Z" fill="#dbdedd"/>
<line x1="116.74" y1="501.70" x2="116.74" y2="665.40" stroke="#56575a" stroke-width="0.8"/>
<line x1="162.03" y1="501.70" x2="162.03" y2="665.40" stroke="#56575a" stroke-width="0.8"/>
<line x1="207.32" y1="501.70" x2="207.32" y2="665.40" stroke="#56575a" stroke-width="0.8"/>
<line x1="252.61" y1="501.70" x2="252.61" y2="665.40" stroke="#56575a" stroke-width="0.8"/>
<line x1="71.45" y1="644.94" x2="297.90" y2="644.94" stroke="#626366" stroke-width="0.85"/>
<line x1="71.45" y1="624.48" x2="297.90" y2="624.48" stroke="#626366" stroke-width="0.85"/>
<line x1="71.45" y1="604.01" x2="297.90" y2="604.01" stroke="#626366" stroke-width="0.85"/>
<line x1="71.45" y1="583.55" x2="297.90" y2="583.55" stroke="#626366" stroke-width="0.85"/>
<line x1="71.45" y1="563.09" x2="297.90" y2="563.09" stroke="#626366" stroke-width="0.85"/>
<line x1="71.45" y1="542.62" x2="297.90" y2="542.62" stroke="#626366" stroke-width="0.85"/>
<line x1="71.45" y1="522.16" x2="297.90" y2="522.16" stroke="#626366" stroke-width="0.85"/>
<path d="M71.45,549.38 L226.12,549.38 L232.00,551.63 L234.28,552.34 L236.56,553.05 L238.83,553.77 L241.11,554.50 L243.39,555.23 L245.66,555.97 L247.94,556.72 L250.21,557.47 L252.49,558.23 L254.77,559.00 L257.04,559.78 L259.32,560.56 L261.60,561.36 L263.87,562.17 L266.15,562.98 L268.43,563.81 L270.70,564.65 L272.98,565.50 L275.25,566.36 L270.12,571.29 L264.98,576.10 L259.84,580.78 L254.70,585.33 L249.57,589.76 L244.43,594.06 L239.29,598.23 L234.15,602.28 L229.01,606.20 L223.88,610.00 L218.74,613.67 L213.60,617.22 L208.46,620.64 L203.32,623.93 L198.19,627.10 L193.05,630.14 L187.91,633.06 L182.77,635.85 L177.63,638.52 L172.50,641.05 L167.36,643.47 L162.22,645.75 L157.08,647.92 L151.95,649.95 L146.81,651.86 L141.67,653.64 L136.53,655.30 L131.39,656.83 L126.26,658.24 L71.45,658.24" fill="none" stroke="#111" stroke-width="2.0" stroke-linejoin="round"/>
<path d="M71.45,608.11 L232.00,551.63" fill="none" stroke="#111" stroke-width="2.0"/>
<rect x="71.45" y="501.70" width="226.45" height="163.70" fill="none" stroke="#5e5f61" stroke-width="1.5"/>
<rect x="162.10" y="501.70" width="135.80" height="30.60" fill="#fff" stroke="#5e5f61" stroke-width="1.4"/>
<text x="165.30" y="509.80" font-size="7.7" font-weight="bold" font-style="normal" text-anchor="start" fill="#1a1a1c" stroke="#1a1a1c" stroke-width="0.18" textLength="89.8" lengthAdjust="spacingAndGlyphs">Wilo-CronoTwin-DL-E</text>
<text x="165.30" y="519.20" font-size="7.7" font-weight="bold" font-style="normal" text-anchor="start" fill="#1a1a1c" stroke="#1a1a1c" stroke-width="0.18" textLength="58.0" lengthAdjust="spacingAndGlyphs">65/210-18,5/2</text>
<circle cx="169.60" cy="526.30" r="4.3" fill="#fff" stroke="#333" stroke-width="0.75"/>
<path d="M169.60,522.35 L172.78,528.02 L166.42,528.02 Z" fill="#1a1a1a"/>
<line x1="92.30" y1="542.70" x2="78.36" y2="662.80" stroke="#2a2a2a" stroke-width="1.6" stroke-dasharray="4.8 3.09"/>
<rect x="79.20" y="530.70" width="25.80" height="12.00" fill="#fff" stroke="#404042" stroke-width="1.4"/>
<text x="82.20" y="538.60" font-size="7.8" font-weight="bold" fill="#1c1c1e" textLength="18" lengthAdjust="spacingAndGlyphs"><tspan font-style="italic">Q</tspan><tspan dy="1.2" font-size="7.4">min</tspan></text>
<text x="68.15" y="668.20" font-size="7.75" font-weight="normal" font-style="normal" text-anchor="end" fill="#2c2c2e" stroke="#2c2c2e" stroke-width="0.18" >0</text>
<text x="68.15" y="647.74" font-size="7.75" font-weight="normal" font-style="normal" text-anchor="end" fill="#2c2c2e" stroke="#2c2c2e" stroke-width="0.18" >10</text>
<text x="68.15" y="627.27" font-size="7.75" font-weight="normal" font-style="normal" text-anchor="end" fill="#2c2c2e" stroke="#2c2c2e" stroke-width="0.18" >20</text>
<text x="68.15" y="606.81" font-size="7.75" font-weight="normal" font-style="normal" text-anchor="end" fill="#2c2c2e" stroke="#2c2c2e" stroke-width="0.18" >30</text>
<text x="68.15" y="586.35" font-size="7.75" font-weight="normal" font-style="normal" text-anchor="end" fill="#2c2c2e" stroke="#2c2c2e" stroke-width="0.18" >40</text>
<text x="68.15" y="565.89" font-size="7.75" font-weight="normal" font-style="normal" text-anchor="end" fill="#2c2c2e" stroke="#2c2c2e" stroke-width="0.18" >50</text>
<text x="68.15" y="545.42" font-size="7.75" font-weight="normal" font-style="normal" text-anchor="end" fill="#2c2c2e" stroke="#2c2c2e" stroke-width="0.18" >60</text>
<text x="68.15" y="524.96" font-size="7.75" font-weight="normal" font-style="normal" text-anchor="end" fill="#2c2c2e" stroke="#2c2c2e" stroke-width="0.18" >70</text>
<text x="68.15" y="507.90" font-size="7.5" font-weight="bold" font-style="normal" text-anchor="end" fill="#1c1c1e" stroke="#1c1c1e" stroke-width="0.22" textLength="14.0" lengthAdjust="spacingAndGlyphs"><tspan font-style="italic" font-size="6.9">H</tspan>/m</text>
<text x="300.00" y="507.60" font-size="7.5" font-weight="bold" font-style="normal" text-anchor="start" fill="#1c1c1e" stroke="#1c1c1e" stroke-width="0.22" textLength="19.5" lengthAdjust="spacingAndGlyphs"><tspan font-style="italic">p</tspan>/kPa</text>
<line x1="297.90" y1="665.40" x2="300.50" y2="665.40" stroke="#5e5f61" stroke-width="0.9"/>
<text x="303.10" y="667.70" font-size="7.75" font-weight="normal" font-style="normal" text-anchor="start" fill="#2c2c2e" stroke="#2c2c2e" stroke-width="0.18" >0</text>
<line x1="297.90" y1="644.54" x2="300.50" y2="644.54" stroke="#5e5f61" stroke-width="0.9"/>
<text x="303.10" y="646.84" font-size="7.75" font-weight="normal" font-style="normal" text-anchor="start" fill="#2c2c2e" stroke="#2c2c2e" stroke-width="0.18" >100</text>
<line x1="297.90" y1="623.68" x2="300.50" y2="623.68" stroke="#5e5f61" stroke-width="0.9"/>
<text x="303.10" y="625.98" font-size="7.75" font-weight="normal" font-style="normal" text-anchor="start" fill="#2c2c2e" stroke="#2c2c2e" stroke-width="0.18" >200</text>
<line x1="297.90" y1="602.82" x2="300.50" y2="602.82" stroke="#5e5f61" stroke-width="0.9"/>
<text x="303.10" y="605.12" font-size="7.75" font-weight="normal" font-style="normal" text-anchor="start" fill="#2c2c2e" stroke="#2c2c2e" stroke-width="0.18" >300</text>
<line x1="297.90" y1="581.96" x2="300.50" y2="581.96" stroke="#5e5f61" stroke-width="0.9"/>
<text x="303.10" y="584.26" font-size="7.75" font-weight="normal" font-style="normal" text-anchor="start" fill="#2c2c2e" stroke="#2c2c2e" stroke-width="0.18" >400</text>
<line x1="297.90" y1="561.10" x2="300.50" y2="561.10" stroke="#5e5f61" stroke-width="0.9"/>
<text x="303.10" y="563.40" font-size="7.75" font-weight="normal" font-style="normal" text-anchor="start" fill="#2c2c2e" stroke="#2c2c2e" stroke-width="0.18" >500</text>
<line x1="297.90" y1="540.24" x2="300.50" y2="540.24" stroke="#5e5f61" stroke-width="0.9"/>
<text x="303.10" y="542.54" font-size="7.75" font-weight="normal" font-style="normal" text-anchor="start" fill="#2c2c2e" stroke="#2c2c2e" stroke-width="0.18" >600</text>
<line x1="297.90" y1="519.38" x2="300.50" y2="519.38" stroke="#5e5f61" stroke-width="0.9"/>
<text x="303.10" y="521.68" font-size="7.75" font-weight="normal" font-style="normal" text-anchor="start" fill="#2c2c2e" stroke="#2c2c2e" stroke-width="0.18" >700</text>
<text x="70.65" y="675.80" font-size="7.75" font-weight="normal" font-style="normal" text-anchor="middle" fill="#2c2c2e" stroke="#2c2c2e" stroke-width="0.18" >0</text>
<text x="115.94" y="675.80" font-size="7.75" font-weight="normal" font-style="normal" text-anchor="middle" fill="#2c2c2e" stroke="#2c2c2e" stroke-width="0.18" >20</text>
<text x="161.23" y="675.80" font-size="7.75" font-weight="normal" font-style="normal" text-anchor="middle" fill="#2c2c2e" stroke="#2c2c2e" stroke-width="0.18" >40</text>
<text x="206.52" y="675.80" font-size="7.75" font-weight="normal" font-style="normal" text-anchor="middle" fill="#2c2c2e" stroke="#2c2c2e" stroke-width="0.18" >60</text>
<text x="251.81" y="675.80" font-size="7.75" font-weight="normal" font-style="normal" text-anchor="middle" fill="#2c2c2e" stroke="#2c2c2e" stroke-width="0.18" >80</text>
<text x="298.50" y="675.50" font-size="7.5" font-weight="bold" font-style="normal" text-anchor="end" fill="#1c1c1e" stroke="#1c1c1e" stroke-width="0.22" textLength="24.6" lengthAdjust="spacingAndGlyphs"><tspan font-style="italic">Q</tspan>/m³/h</text>
<line x1="70.95" y1="687.00" x2="297.90" y2="687.00" stroke="#525355" stroke-width="1.25"/>
<line x1="71.45" y1="687.00" x2="71.45" y2="689.40" stroke="#525355" stroke-width="1.1"/>
<text x="70.55" y="698.30" font-size="7.75" font-weight="normal" font-style="normal" text-anchor="middle" fill="#2c2c2e" stroke="#2c2c2e" stroke-width="0.18" >0</text>
<line x1="112.21" y1="687.00" x2="112.21" y2="689.40" stroke="#525355" stroke-width="1.1"/>
<text x="111.31" y="698.30" font-size="7.75" font-weight="normal" font-style="normal" text-anchor="middle" fill="#2c2c2e" stroke="#2c2c2e" stroke-width="0.18" >5</text>
<line x1="152.97" y1="687.00" x2="152.97" y2="689.40" stroke="#525355" stroke-width="1.1"/>
<text x="152.07" y="698.30" font-size="7.75" font-weight="normal" font-style="normal" text-anchor="middle" fill="#2c2c2e" stroke="#2c2c2e" stroke-width="0.18" >10</text>
<line x1="193.73" y1="687.00" x2="193.73" y2="689.40" stroke="#525355" stroke-width="1.1"/>
<text x="192.83" y="698.30" font-size="7.75" font-weight="normal" font-style="normal" text-anchor="middle" fill="#2c2c2e" stroke="#2c2c2e" stroke-width="0.18" >15</text>
<line x1="234.49" y1="687.00" x2="234.49" y2="689.40" stroke="#525355" stroke-width="1.1"/>
<text x="233.59" y="698.30" font-size="7.75" font-weight="normal" font-style="normal" text-anchor="middle" fill="#2c2c2e" stroke="#2c2c2e" stroke-width="0.18" >20</text>
<line x1="275.25" y1="687.00" x2="275.25" y2="689.40" stroke="#525355" stroke-width="1.1"/>
<text x="274.36" y="698.30" font-size="7.75" font-weight="normal" font-style="normal" text-anchor="middle" fill="#2c2c2e" stroke="#2c2c2e" stroke-width="0.18" >25</text>
<text x="297.80" y="698.30" font-size="7.5" font-weight="bold" font-style="normal" text-anchor="end" fill="#1c1c1e" stroke="#1c1c1e" stroke-width="0.22" textLength="15.9" lengthAdjust="spacingAndGlyphs"><tspan font-style="italic">Q</tspan>/l/s</text>
<rect x="129.60" y="539.00" width="21.2" height="8" fill="#fff"/>
<text x="132.20" y="545.50" font-size="7.6" font-weight="normal" font-style="normal" text-anchor="start" fill="#2c2c2e" stroke="#2c2c2e" stroke-width="0.18" >Δp-c</text>
<text transform="translate(137.2,580.7) rotate(-19.5)" font-size="7.6" fill="#2c2c2e">Δp-v</text>
<text transform="translate(256.4,554.8) rotate(23)" font-size="7.6" fill="#2c2c2e">max.</text>
<line x1="116.74" y1="709.60" x2="116.74" y2="763.80" stroke="#56575a" stroke-width="0.8"/>
<line x1="162.03" y1="709.60" x2="162.03" y2="763.80" stroke="#56575a" stroke-width="0.8"/>
<line x1="207.32" y1="709.60" x2="207.32" y2="763.80" stroke="#56575a" stroke-width="0.8"/>
<line x1="252.61" y1="709.60" x2="252.61" y2="763.80" stroke="#56575a" stroke-width="0.8"/>
<line x1="71.45" y1="752.96" x2="297.90" y2="752.96" stroke="#626366" stroke-width="0.85"/>
<line x1="71.45" y1="742.12" x2="297.90" y2="742.12" stroke="#626366" stroke-width="0.85"/>
<line x1="71.45" y1="731.28" x2="297.90" y2="731.28" stroke="#626366" stroke-width="0.85"/>
<line x1="71.45" y1="720.44" x2="297.90" y2="720.44" stroke="#626366" stroke-width="0.85"/>
<path d="M71.45,746.67 L74.03,746.42 L76.61,746.17 L79.19,745.92 L81.77,745.68 L84.35,745.44 L86.93,745.21 L89.51,744.98 L92.09,744.75 L94.67,744.52 L97.25,744.30 L99.83,744.07 L102.41,743.85 L104.99,743.62 L107.57,743.39 L110.15,743.16 L112.73,742.92 L115.31,742.69 L117.89,742.45 L120.47,742.20 L123.05,741.95 L125.63,741.69 L128.21,741.43 L130.79,741.16 L133.37,740.89 L135.95,740.60 L138.53,740.31 L141.10,740.00 L143.68,739.69 L146.26,739.37 L148.84,739.03 L151.42,738.69 L154.00,738.33 L156.58,737.96 L159.16,737.58 L161.74,737.18 L164.32,736.77 L166.90,736.34 L169.48,735.90 L172.06,735.45 L174.64,734.99 L177.22,734.53 L179.80,734.05 L182.38,733.57 L184.96,733.09 L187.54,732.60 L190.12,732.11 L192.70,731.62 L195.28,731.13 L197.86,730.65 L200.44,730.16 L203.02,729.68 L205.60,729.21 L208.18,728.74 L210.76,728.28 L213.34,727.83 L215.92,727.39 L218.50,726.95 L221.08,726.53 L223.66,726.11 L226.24,725.70 L228.82,725.30 L231.40,724.90 L233.98,724.52 L236.56,724.14 L239.14,723.77 L241.72,723.42 L244.30,723.07 L246.88,722.72 L249.46,722.39 L252.04,722.07 L254.62,721.76 L257.20,721.45 L259.78,721.15 L262.36,720.87 L264.94,720.59 L267.52,720.32 L270.10,720.06 L272.68,719.81 L275.25,719.57" fill="none" stroke="#1a1a1a" stroke-width="2.1" stroke-linecap="butt" stroke-linejoin="round"/>
<path d="M71.45,751.66 L73.92,751.52 L76.38,751.37 L78.85,751.23 L81.31,751.08 L83.78,750.94 L86.24,750.78 L88.71,750.63 L91.17,750.48 L93.64,750.32 L96.10,750.15 L98.57,749.99 L101.03,749.82 L103.50,749.64 L105.96,749.46 L108.43,749.28 L110.89,749.09 L113.36,748.90 L115.82,748.70 L118.29,748.49 L120.75,748.28 L123.22,748.07 L125.68,747.84 L128.15,747.61 L130.61,747.38 L133.08,747.13 L135.54,746.88 L138.01,746.62 L140.47,746.35 L142.94,746.08 L145.40,745.80 L147.87,745.50 L150.33,745.20 L152.80,744.89 L155.27,744.57 L157.73,744.24 L160.20,743.90 L162.66,743.55 L165.13,743.19 L167.59,742.82 L170.06,742.44 L172.52,742.05 L174.99,741.65 L177.45,741.25 L179.92,740.84 L182.38,740.42 L184.85,740.00 L187.31,739.58 L189.78,739.15 L192.24,738.72 L194.71,738.29 L197.17,737.85 L199.64,737.41 L202.10,736.97 L204.57,736.54 L207.03,736.10 L209.50,735.66 L211.96,735.23 L214.43,734.80 L216.89,734.36 L219.36,733.93 L221.82,733.49 L224.29,733.06 L226.75,732.62 L229.22,732.18 L231.68,731.74 L234.15,731.29 L236.62,730.84 L239.08,730.39 L241.55,729.93 L244.01,729.47 L246.48,729.00 L248.94,728.52 L251.41,728.04 L253.87,727.55 L256.34,727.06 L258.80,726.56 L261.27,726.04 L263.73,725.52 L266.20,724.99" fill="none" stroke="#1a1a1a" stroke-width="1.45" stroke-linecap="butt" stroke-linejoin="round"/>
<path d="M71.45,756.00 L73.51,755.84 L75.58,755.69 L77.64,755.55 L79.71,755.41 L81.77,755.28 L83.83,755.15 L85.90,755.03 L87.96,754.92 L90.02,754.81 L92.09,754.70 L94.15,754.60 L96.22,754.50 L98.28,754.40 L100.34,754.31 L102.41,754.22 L104.47,754.13 L106.54,754.04 L108.60,753.95 L110.66,753.87 L112.73,753.78 L114.79,753.69 L116.85,753.61 L118.92,753.52 L120.98,753.43 L123.05,753.34 L125.11,753.24 L127.17,753.15 L129.24,753.05 L131.30,752.95 L133.37,752.84 L135.43,752.73 L137.49,752.62 L139.56,752.50 L141.62,752.38 L143.68,752.25 L145.75,752.11 L147.81,751.97 L149.88,751.82 L151.94,751.67 L154.00,751.50 L156.07,751.33 L158.13,751.15 L160.20,750.97 L162.26,750.77 L164.32,750.56 L166.39,750.35 L168.45,750.13 L170.51,749.89 L172.58,749.66 L174.64,749.41 L176.71,749.16 L178.77,748.90 L180.83,748.64 L182.90,748.37 L184.96,748.09 L187.03,747.81 L189.09,747.53 L191.15,747.24 L193.22,746.96 L195.28,746.66 L197.34,746.37 L199.41,746.08 L201.47,745.78 L203.54,745.48 L205.60,745.19 L207.66,744.89 L209.73,744.59 L211.79,744.30 L213.86,744.00 L215.92,743.71 L217.98,743.42 L220.05,743.14 L222.11,742.85 L224.17,742.57 L226.24,742.30 L228.30,742.03 L230.37,741.77 L232.43,741.51 L234.49,741.25" fill="none" stroke="#1a1a1a" stroke-width="1.45" stroke-linecap="butt" stroke-linejoin="round"/>
<path d="M71.45,760.33 L73.01,760.27 L74.56,760.22 L76.12,760.16 L77.68,760.10 L79.23,760.05 L80.79,759.99 L82.35,759.94 L83.90,759.89 L85.46,759.84 L87.01,759.79 L88.57,759.73 L90.13,759.68 L91.68,759.63 L93.24,759.58 L94.80,759.53 L96.35,759.48 L97.91,759.43 L99.47,759.38 L101.02,759.33 L102.58,759.28 L104.14,759.23 L105.69,759.18 L107.25,759.13 L108.81,759.08 L110.36,759.03 L111.92,758.98 L113.48,758.93 L115.03,758.87 L116.59,758.82 L118.14,758.76 L119.70,758.71 L121.26,758.65 L122.81,758.60 L124.37,758.54 L125.93,758.48 L127.48,758.42 L129.04,758.35 L130.60,758.29 L132.15,758.23 L133.71,758.16 L135.27,758.09 L136.82,758.03 L138.38,757.96 L139.94,757.88 L141.49,757.81 L143.05,757.73 L144.60,757.66 L146.16,757.58 L147.72,757.50 L149.27,757.41 L150.83,757.33 L152.39,757.24 L153.94,757.15 L155.50,757.06 L157.06,756.96 L158.61,756.87 L160.17,756.77 L161.73,756.67 L163.28,756.56 L164.84,756.45 L166.40,756.34 L167.95,756.23 L169.51,756.12 L171.07,756.00 L172.62,755.88 L174.18,755.75 L175.73,755.62 L177.29,755.49 L178.85,755.36 L180.40,755.22 L181.96,755.08 L183.52,754.94 L185.07,754.79 L186.63,754.64 L188.19,754.48 L189.74,754.33 L191.30,754.16 L192.86,754.00 L194.41,753.83" fill="none" stroke="#1a1a1a" stroke-width="1.45" stroke-linecap="butt" stroke-linejoin="round"/>
<path d="M71.45,762.98 L72.14,762.98 L72.83,762.98 L73.51,762.98 L74.20,762.98 L74.89,762.98 L75.58,762.98 L76.27,762.98 L76.95,762.98 L77.64,762.98 L78.33,762.98 L79.02,762.98 L79.71,762.98 L80.39,762.98 L81.08,762.98 L81.77,762.98 L82.46,762.98 L83.15,762.98 L83.83,762.98 L84.52,762.98 L85.21,762.98 L85.90,762.98 L86.58,762.98 L87.27,762.98 L87.96,762.98 L88.65,762.98 L89.34,762.98 L90.02,762.98 L90.71,762.98 L91.40,762.98 L92.09,762.98 L92.78,762.98 L93.46,762.98 L94.15,762.98 L94.84,762.98 L95.53,762.98 L96.22,762.98 L96.90,762.98 L97.59,762.98 L98.28,762.98 L98.97,762.98 L99.66,762.98 L100.34,762.98 L101.03,762.98 L101.72,762.98 L102.41,762.98 L103.10,762.98 L103.78,762.98 L104.47,762.98 L105.16,762.98 L105.85,762.98 L106.54,762.98 L107.22,762.98 L107.91,762.98 L108.60,762.98 L109.29,762.98 L109.98,762.98 L110.66,762.98 L111.35,762.98 L112.04,762.98 L112.73,762.98 L113.41,762.98 L114.10,762.98 L114.79,762.98 L115.48,762.98 L116.17,762.98 L116.85,762.98 L117.54,762.98 L118.23,762.98 L118.92,762.98 L119.61,762.98 L120.29,762.98 L120.98,762.98 L121.67,762.98 L122.36,762.98 L123.05,762.98 L123.73,762.98 L124.42,762.98 L125.11,762.98 L125.80,762.98" fill="none" stroke="#1a1a1a" stroke-width="2.4" stroke-linecap="butt" stroke-linejoin="round"/>
<rect x="71.45" y="709.60" width="226.45" height="54.20" fill="none" stroke="#5e5f61" stroke-width="1.5"/>
<text transform="translate(259,718.6) rotate(-4)" font-size="7.6" fill="#2c2c2e">max.</text>
<text transform="translate(216.6,734.0) rotate(-8)" font-size="7.6" fill="#2c2c2e">44m</text>
<text transform="translate(221,740.8) rotate(-6)" font-size="7.6" fill="#2c2c2e">31m</text>
<text transform="translate(196,754.2) rotate(-4)" font-size="7.6" fill="#2c2c2e">18m</text>
<text transform="translate(143.3,763.4) rotate(0)" font-size="7.6" fill="#2c2c2e">3.5m</text>
<text x="68.15" y="766.20" font-size="7.75" font-weight="normal" font-style="normal" text-anchor="end" fill="#2c2c2e" stroke="#2c2c2e" stroke-width="0.18" >0</text>
<text x="68.15" y="755.36" font-size="7.75" font-weight="normal" font-style="normal" text-anchor="end" fill="#2c2c2e" stroke="#2c2c2e" stroke-width="0.18" >5</text>
<text x="68.15" y="744.52" font-size="7.75" font-weight="normal" font-style="normal" text-anchor="end" fill="#2c2c2e" stroke="#2c2c2e" stroke-width="0.18" >10</text>
<text x="68.15" y="733.68" font-size="7.75" font-weight="normal" font-style="normal" text-anchor="end" fill="#2c2c2e" stroke="#2c2c2e" stroke-width="0.18" >15</text>
<text x="68.25" y="714.90" font-size="7.5" font-weight="bold" font-style="normal" text-anchor="end" fill="#1c1c1e" stroke="#1c1c1e" stroke-width="0.22" textLength="16.9" lengthAdjust="spacingAndGlyphs">Δp-c</text>
<text x="68.65" y="724.30" font-size="7.5" font-weight="bold" font-style="normal" text-anchor="end" fill="#1c1c1e" stroke="#1c1c1e" stroke-width="0.22" textLength="21.4" lengthAdjust="spacingAndGlyphs"><tspan font-style="italic">P</tspan><tspan font-size="5" dy="1.6">1</tspan><tspan dy="-1.6">/kW</tspan></text>
<text x="70.65" y="774.20" font-size="7.75" font-weight="normal" font-style="normal" text-anchor="middle" fill="#2c2c2e" stroke="#2c2c2e" stroke-width="0.18" >0</text>
<text x="115.94" y="774.20" font-size="7.75" font-weight="normal" font-style="normal" text-anchor="middle" fill="#2c2c2e" stroke="#2c2c2e" stroke-width="0.18" >20</text>
<text x="161.23" y="774.20" font-size="7.75" font-weight="normal" font-style="normal" text-anchor="middle" fill="#2c2c2e" stroke="#2c2c2e" stroke-width="0.18" >40</text>
<text x="206.52" y="774.20" font-size="7.75" font-weight="normal" font-style="normal" text-anchor="middle" fill="#2c2c2e" stroke="#2c2c2e" stroke-width="0.18" >60</text>
<text x="251.81" y="774.20" font-size="7.75" font-weight="normal" font-style="normal" text-anchor="middle" fill="#2c2c2e" stroke="#2c2c2e" stroke-width="0.18" >80</text>
<text x="298.50" y="773.90" font-size="7.5" font-weight="bold" font-style="normal" text-anchor="end" fill="#1c1c1e" stroke="#1c1c1e" stroke-width="0.22" textLength="24.6" lengthAdjust="spacingAndGlyphs"><tspan font-style="italic">Q</tspan>/m³/h</text>
<line x1="116.74" y1="786.00" x2="116.74" y2="840.50" stroke="#56575a" stroke-width="0.8"/>
<line x1="162.03" y1="786.00" x2="162.03" y2="840.50" stroke="#56575a" stroke-width="0.8"/>
<line x1="207.32" y1="786.00" x2="207.32" y2="840.50" stroke="#56575a" stroke-width="0.8"/>
<line x1="252.61" y1="786.00" x2="252.61" y2="840.50" stroke="#56575a" stroke-width="0.8"/>
<line x1="71.45" y1="826.88" x2="297.90" y2="826.88" stroke="#626366" stroke-width="0.85"/>
<line x1="71.45" y1="813.25" x2="297.90" y2="813.25" stroke="#626366" stroke-width="0.85"/>
<line x1="71.45" y1="799.62" x2="297.90" y2="799.62" stroke="#626366" stroke-width="0.85"/>
<path d="M74.39,839.82 L76.94,838.60 L79.48,837.33 L82.02,836.04 L84.56,834.71 L87.11,833.36 L89.65,832.00 L92.19,830.63 L94.73,829.25 L97.28,827.88 L99.82,826.52 L102.36,825.17 L104.90,823.85 L107.45,822.55 L109.99,821.29 L112.53,820.07 L115.07,818.90 L117.62,817.77 L120.16,816.71 L122.70,815.69 L125.24,814.72 L127.79,813.78 L130.33,812.88 L132.87,812.00 L135.41,811.15 L137.96,810.31 L140.50,809.48 L143.04,808.66 L145.59,807.85 L148.13,807.06 L150.67,806.28 L153.21,805.53 L155.76,804.81 L158.30,804.12 L160.84,803.46 L163.38,802.84 L165.93,802.27 L168.47,801.72 L171.01,801.22 L173.55,800.74 L176.10,800.29 L178.64,799.87 L181.18,799.47 L183.72,799.08 L186.27,798.72 L188.81,798.37 L191.35,798.03 L193.89,797.72 L196.44,797.42 L198.98,797.14 L201.52,796.88 L204.06,796.63 L206.61,796.41 L209.15,796.21 L211.69,796.03 L214.23,795.88 L216.78,795.74 L219.32,795.62 L221.86,795.52 L224.40,795.45 L226.95,795.39 L229.49,795.35 L232.03,795.33 L234.57,795.33 L237.12,795.35 L239.66,795.39 L242.20,795.44 L244.74,795.51 L247.29,795.59 L249.83,795.69 L252.37,795.80 L254.91,795.92 L257.46,796.05 L260.00,796.19 L262.54,796.34 L265.08,796.50 L267.63,796.66 L270.17,796.83 L272.71,797.00 L275.25,797.17" fill="none" stroke="#1a1a1a" stroke-width="2.2" stroke-linecap="round" stroke-linejoin="round"/>
<path d="M94.09,819.11 L96.39,819.26 L98.68,819.40 L100.97,819.53 L103.27,819.66 L105.56,819.79 L107.85,819.91 L110.15,820.03 L112.44,820.14 L114.73,820.25 L117.03,820.35 L119.32,820.44 L121.61,820.54 L123.91,820.62 L126.20,820.70 L128.49,820.78 L130.79,820.85 L133.08,820.92 L135.37,820.98 L137.67,821.04 L139.96,821.10 L142.25,821.15 L144.54,821.19 L146.84,821.22 L149.13,821.24 L151.42,821.25 L153.72,821.25 L156.01,821.23 L158.30,821.19 L160.60,821.13 L162.89,821.05 L165.18,820.95 L167.48,820.83 L169.77,820.68 L172.06,820.52 L174.36,820.34 L176.65,820.15 L178.94,819.95 L181.24,819.73 L183.53,819.50 L185.82,819.26 L188.11,819.01 L190.41,818.76 L192.70,818.50 L194.99,818.23 L197.29,817.95 L199.58,817.67 L201.87,817.37 L204.17,817.08 L206.46,816.77 L208.75,816.46 L211.05,816.15 L213.34,815.82 L215.63,815.49 L217.93,815.16 L220.22,814.81 L222.51,814.46 L224.81,814.10 L227.10,813.73 L229.39,813.35 L231.68,812.96 L233.98,812.55 L236.27,812.14 L238.56,811.70 L240.86,811.25 L243.15,810.77 L245.44,810.26 L247.74,809.73 L250.03,809.16 L252.32,808.56 L254.62,807.92 L256.91,807.24 L259.20,806.51 L261.50,805.74 L263.79,804.92 L266.08,804.04 L268.38,803.12 L270.67,802.13 L272.96,801.08 L275.25,799.97" fill="none" stroke="#1a1a1a" stroke-width="2.2" stroke-linecap="butt" stroke-linejoin="round"/>
<rect x="71.45" y="786.00" width="226.45" height="54.50" fill="none" stroke="#5e5f61" stroke-width="1.5"/>
<text x="68.15" y="843.30" font-size="7.75" font-weight="normal" font-style="normal" text-anchor="end" fill="#2c2c2e" stroke="#2c2c2e" stroke-width="0.18" >0</text>
<text x="68.15" y="829.67" font-size="7.75" font-weight="normal" font-style="normal" text-anchor="end" fill="#2c2c2e" stroke="#2c2c2e" stroke-width="0.18" >2</text>
<text x="68.15" y="816.05" font-size="7.75" font-weight="normal" font-style="normal" text-anchor="end" fill="#2c2c2e" stroke="#2c2c2e" stroke-width="0.18" >4</text>
<text x="68.15" y="802.42" font-size="7.75" font-weight="normal" font-style="normal" text-anchor="end" fill="#2c2c2e" stroke="#2c2c2e" stroke-width="0.18" >6</text>
<text x="69.05" y="793.00" font-size="7.5" font-weight="bold" font-style="italic" text-anchor="end" fill="#1c1c1e" stroke="#1c1c1e" stroke-width="0.22" textLength="28.2" lengthAdjust="spacingAndGlyphs">NPSH/m</text>
<text x="300.40" y="791.60" font-size="7.5" font-weight="bold" font-style="italic" text-anchor="start" fill="#1c1c1e" stroke="#1c1c1e" stroke-width="0.22" textLength="31.0" lengthAdjust="spacingAndGlyphs">η hyd./%</text>
<line x1="297.90" y1="840.50" x2="300.50" y2="840.50" stroke="#5e5f61" stroke-width="0.9"/>
<text x="303.10" y="842.80" font-size="7.75" font-weight="normal" font-style="normal" text-anchor="start" fill="#2c2c2e" stroke="#2c2c2e" stroke-width="0.18" >0</text>
<line x1="297.90" y1="826.88" x2="300.50" y2="826.88" stroke="#5e5f61" stroke-width="0.9"/>
<text x="303.10" y="829.17" font-size="7.75" font-weight="normal" font-style="normal" text-anchor="start" fill="#2c2c2e" stroke="#2c2c2e" stroke-width="0.18" >20</text>
<line x1="297.90" y1="813.25" x2="300.50" y2="813.25" stroke="#5e5f61" stroke-width="0.9"/>
<text x="303.10" y="815.55" font-size="7.75" font-weight="normal" font-style="normal" text-anchor="start" fill="#2c2c2e" stroke="#2c2c2e" stroke-width="0.18" >40</text>
<line x1="297.90" y1="799.62" x2="300.50" y2="799.62" stroke="#5e5f61" stroke-width="0.9"/>
<text x="303.10" y="801.92" font-size="7.75" font-weight="normal" font-style="normal" text-anchor="start" fill="#2c2c2e" stroke="#2c2c2e" stroke-width="0.18" >60</text>
<text x="70.65" y="850.90" font-size="7.75" font-weight="normal" font-style="normal" text-anchor="middle" fill="#2c2c2e" stroke="#2c2c2e" stroke-width="0.18" >0</text>
<text x="115.94" y="850.90" font-size="7.75" font-weight="normal" font-style="normal" text-anchor="middle" fill="#2c2c2e" stroke="#2c2c2e" stroke-width="0.18" >20</text>
<text x="161.23" y="850.90" font-size="7.75" font-weight="normal" font-style="normal" text-anchor="middle" fill="#2c2c2e" stroke="#2c2c2e" stroke-width="0.18" >40</text>
<text x="206.52" y="850.90" font-size="7.75" font-weight="normal" font-style="normal" text-anchor="middle" fill="#2c2c2e" stroke="#2c2c2e" stroke-width="0.18" >60</text>
<text x="251.81" y="850.90" font-size="7.75" font-weight="normal" font-style="normal" text-anchor="middle" fill="#2c2c2e" stroke="#2c2c2e" stroke-width="0.18" >80</text>
<text x="298.50" y="850.60" font-size="7.5" font-weight="bold" font-style="normal" text-anchor="end" fill="#1c1c1e" stroke="#1c1c1e" stroke-width="0.22" textLength="24.6" lengthAdjust="spacingAndGlyphs"><tspan font-style="italic">Q</tspan>/m³/h</text>
<text x="175.40" y="796.40" font-size="7.6" font-weight="normal" font-style="normal" text-anchor="start" fill="#2c2c2e" stroke="#2c2c2e" stroke-width="0.18" textLength="19.2" lengthAdjust="spacingAndGlyphs">η hyd.</text>
<rect x="173.10" y="822.50" width="24.5" height="7.4" fill="#fff"/>
<text x="174.60" y="828.80" font-size="7.6" font-weight="normal" font-style="normal" text-anchor="start" fill="#2c2c2e" stroke="#2c2c2e" stroke-width="0.18" textLength="18.8" lengthAdjust="spacingAndGlyphs">NPSH</text>
<path d="M377.30,189.32 L379.81,188.39 L382.33,187.51 L384.84,186.67 L387.35,185.87 L389.86,185.11 L392.38,184.40 L394.89,183.72 L397.40,183.09 L399.91,182.50 L402.43,181.95 L404.94,181.44 L407.45,180.97 L409.96,180.54 L412.48,180.15 L414.99,179.80 L417.50,179.49 L420.01,179.22 L422.53,178.98 L425.04,178.79 L427.55,178.64 L430.06,178.55 L432.58,178.52 L435.09,178.58 L437.60,178.70 L440.11,178.89 L442.63,179.14 L445.14,179.42 L447.65,179.73 L450.16,180.07 L452.68,180.43 L455.19,180.81 L457.70,181.21 L460.21,181.62 L462.73,182.05 L465.24,182.49 L467.75,182.93 L470.26,183.39 L472.78,183.84 L475.29,184.31 L477.80,184.79 L480.31,185.27 L482.83,185.77 L485.34,186.27 L487.85,186.80 L490.36,187.33 L492.88,187.88 L495.39,188.46 L497.90,189.04 L500.41,189.65 L502.93,190.28 L505.44,190.94 L507.95,191.61 L510.46,192.32 L512.98,193.05 L515.49,193.81 L518.00,194.59 L520.51,195.40 L523.03,196.24 L525.54,197.10 L528.05,197.98 L530.56,198.88 L533.08,199.80 L535.59,200.74 L538.10,201.70 L540.61,202.68 L543.13,203.68 L545.64,204.71 L548.15,205.78 L550.67,206.87 L553.18,208.01 L555.69,209.19 L558.20,210.41 L560.72,211.68 L563.23,213.01 L565.74,214.39 L568.25,215.84 L570.77,217.34 L573.28,218.92 L575.79,220.56 L557.77,236.00 L537.72,252.70 L517.67,267.45 L497.62,280.22 L477.56,291.03 L457.51,299.88 L428.53,309.38 L426.92,309.07 L426.29,308.96 L425.67,308.85 L425.04,308.75 L424.41,308.65 L423.78,308.55 L423.15,308.46 L422.53,308.37 L421.90,308.29 L421.27,308.21 L420.64,308.13 L420.01,308.06 L419.39,307.98 L418.76,307.91 L418.13,307.84 L417.50,307.78 L416.87,307.71 L416.24,307.64 L415.62,307.58 L414.99,307.52 L414.36,307.46 L413.73,307.40 L413.10,307.34 L412.48,307.29 L411.85,307.23 L411.22,307.18 L410.59,307.13 L409.96,307.08 L409.33,307.04 L408.71,306.99 L408.08,306.95 L407.45,306.91 L406.82,306.87 L406.19,306.83 L405.57,306.79 L404.94,306.75 L404.31,306.72 L403.68,306.68 L403.05,306.65 L402.43,306.61 L401.80,306.58 L401.17,306.55 L400.54,306.52 L399.91,306.49 L399.28,306.46 L398.66,306.43 L398.03,306.40 L397.40,306.37 L396.77,306.34 L396.14,306.31 L395.52,306.29 L394.89,306.27 L394.26,306.24 L393.63,306.22 L393.00,306.21 L392.38,306.20 L391.75,306.19 L391.12,306.18 L390.49,306.18 L389.86,306.19 L389.23,306.20 L388.61,306.21 L387.98,306.23 L387.35,306.25 L386.72,306.27 L386.09,306.29 L385.47,306.32 L384.84,306.35 L384.21,306.38 L383.58,306.42 L382.95,306.46 L382.33,306.50 L381.70,306.54 L381.07,306.59 L380.44,306.64 L379.81,306.69 L379.18,306.74 L378.56,306.80 L377.93,306.86 L377.30,306.92 Z" fill="#dbdedd"/>
<line x1="422.54" y1="139.60" x2="422.54" y2="315.60" stroke="#56575a" stroke-width="0.8"/>
<line x1="467.78" y1="139.60" x2="467.78" y2="315.60" stroke="#56575a" stroke-width="0.8"/>
<line x1="513.02" y1="139.60" x2="513.02" y2="315.60" stroke="#56575a" stroke-width="0.8"/>
<line x1="558.26" y1="139.60" x2="558.26" y2="315.60" stroke="#56575a" stroke-width="0.8"/>
<line x1="377.30" y1="293.60" x2="603.50" y2="293.60" stroke="#626366" stroke-width="0.85"/>
<line x1="377.30" y1="271.60" x2="603.50" y2="271.60" stroke="#626366" stroke-width="0.85"/>
<line x1="377.30" y1="249.60" x2="603.50" y2="249.60" stroke="#626366" stroke-width="0.85"/>
<line x1="377.30" y1="227.60" x2="603.50" y2="227.60" stroke="#626366" stroke-width="0.85"/>
<line x1="377.30" y1="205.60" x2="603.50" y2="205.60" stroke="#626366" stroke-width="0.85"/>
<line x1="377.30" y1="183.60" x2="603.50" y2="183.60" stroke="#626366" stroke-width="0.85"/>
<line x1="377.30" y1="161.60" x2="603.50" y2="161.60" stroke="#626366" stroke-width="0.85"/>
<path d="M377.30,189.32 L379.81,188.39 L382.33,187.51 L384.84,186.67 L387.35,185.87 L389.86,185.11 L392.38,184.40 L394.89,183.72 L397.40,183.09 L399.91,182.50 L402.43,181.95 L404.94,181.44 L407.45,180.97 L409.96,180.54 L412.48,180.15 L414.99,179.80 L417.50,179.49 L420.01,179.22 L422.53,178.98 L425.04,178.79 L427.55,178.64 L430.06,178.55 L432.58,178.52 L435.09,178.58 L437.60,178.70 L440.11,178.89 L442.63,179.14 L445.14,179.42 L447.65,179.73 L450.16,180.07 L452.68,180.43 L455.19,180.81 L457.70,181.21 L460.21,181.62 L462.73,182.05 L465.24,182.49 L467.75,182.93 L470.26,183.39 L472.78,183.84 L475.29,184.31 L477.80,184.79 L480.31,185.27 L482.83,185.77 L485.34,186.27 L487.85,186.80 L490.36,187.33 L492.88,187.88 L495.39,188.46 L497.90,189.04 L500.41,189.65 L502.93,190.28 L505.44,190.94 L507.95,191.61 L510.46,192.32 L512.98,193.05 L515.49,193.81 L518.00,194.59 L520.51,195.40 L523.03,196.24 L525.54,197.10 L528.05,197.98 L530.56,198.88 L533.08,199.80 L535.59,200.74 L538.10,201.70 L540.61,202.68 L543.13,203.68 L545.64,204.71 L548.15,205.78 L550.67,206.87 L553.18,208.01 L555.69,209.19 L558.20,210.41 L560.72,211.68 L563.23,213.01 L565.74,214.39 L568.25,215.84 L570.77,217.34 L573.28,218.92 L575.79,220.56" fill="none" stroke="#1a1a1a" stroke-width="1.8" stroke-linecap="butt" stroke-linejoin="round"/>
<path d="M377.30,213.31 L379.58,212.55 L381.87,211.83 L384.15,211.14 L386.44,210.49 L388.72,209.87 L391.01,209.29 L393.29,208.74 L395.58,208.23 L397.86,207.75 L400.14,207.30 L402.43,206.89 L404.71,206.51 L407.00,206.16 L409.28,205.84 L411.57,205.56 L413.85,205.31 L416.14,205.09 L418.42,204.91 L420.71,204.75 L422.99,204.64 L425.27,204.58 L427.56,204.57 L429.84,204.63 L432.13,204.75 L434.41,204.91 L436.70,205.12 L438.98,205.36 L441.27,205.62 L443.55,205.90 L445.83,206.19 L448.12,206.50 L450.40,206.81 L452.69,207.14 L454.97,207.48 L457.26,207.82 L459.54,208.16 L461.83,208.50 L464.11,208.85 L466.39,209.20 L468.68,209.56 L470.96,209.92 L473.25,210.29 L475.53,210.67 L477.82,211.05 L480.10,211.45 L482.39,211.86 L484.67,212.28 L486.95,212.71 L489.24,213.16 L491.52,213.62 L493.81,214.10 L496.09,214.60 L498.38,215.11 L500.66,215.65 L502.95,216.21 L505.23,216.78 L507.52,217.38 L509.80,217.99 L512.08,218.62 L514.37,219.26 L516.65,219.91 L518.94,220.58 L521.22,221.26 L523.51,221.96 L525.79,222.67 L528.08,223.40 L530.36,224.15 L532.64,224.93 L534.93,225.73 L537.21,226.57 L539.50,227.44 L541.78,228.35 L544.07,229.30 L546.35,230.29 L548.64,231.33 L550.92,232.41 L553.20,233.55 L555.49,234.75 L557.77,236.00" fill="none" stroke="#1a1a1a" stroke-width="1.15" stroke-linecap="butt" stroke-linejoin="round"/>
<path d="M377.30,234.78 L379.33,234.18 L381.36,233.61 L383.39,233.07 L385.42,232.55 L387.45,232.06 L389.48,231.60 L391.51,231.17 L393.55,230.76 L395.58,230.38 L397.61,230.03 L399.64,229.70 L401.67,229.40 L403.70,229.13 L405.73,228.88 L407.76,228.66 L409.79,228.46 L411.82,228.29 L413.85,228.14 L415.88,228.02 L417.91,227.93 L419.94,227.88 L421.97,227.87 L424.00,227.92 L426.04,228.01 L428.07,228.14 L430.10,228.31 L432.13,228.50 L434.16,228.70 L436.19,228.92 L438.22,229.15 L440.25,229.39 L442.28,229.65 L444.31,229.90 L446.34,230.17 L448.37,230.44 L450.40,230.71 L452.43,230.98 L454.46,231.25 L456.50,231.53 L458.53,231.81 L460.56,232.10 L462.59,232.39 L464.62,232.69 L466.65,233.00 L468.68,233.31 L470.71,233.63 L472.74,233.96 L474.77,234.30 L476.80,234.66 L478.83,235.02 L480.86,235.40 L482.89,235.80 L484.92,236.20 L486.95,236.63 L488.99,237.07 L491.02,237.52 L493.05,237.99 L495.08,238.47 L497.11,238.97 L499.14,239.48 L501.17,240.00 L503.20,240.52 L505.23,241.06 L507.26,241.61 L509.29,242.17 L511.32,242.75 L513.35,243.34 L515.38,243.96 L517.41,244.59 L519.45,245.25 L521.48,245.94 L523.51,246.66 L525.54,247.41 L527.57,248.19 L529.60,249.01 L531.63,249.87 L533.66,250.77 L535.69,251.72 L537.72,252.70" fill="none" stroke="#1a1a1a" stroke-width="1.15" stroke-linecap="butt" stroke-linejoin="round"/>
<path d="M377.30,253.72 L379.08,253.26 L380.85,252.83 L382.63,252.41 L384.41,252.02 L386.18,251.64 L387.96,251.29 L389.74,250.96 L391.51,250.65 L393.29,250.36 L395.07,250.09 L396.84,249.84 L398.62,249.61 L400.40,249.40 L402.18,249.20 L403.95,249.03 L405.73,248.88 L407.51,248.75 L409.28,248.64 L411.06,248.54 L412.84,248.48 L414.61,248.44 L416.39,248.43 L418.17,248.47 L419.94,248.54 L421.72,248.64 L423.50,248.77 L425.27,248.91 L427.05,249.07 L428.83,249.24 L430.60,249.41 L432.38,249.60 L434.16,249.79 L435.93,249.99 L437.71,250.19 L439.49,250.40 L441.27,250.60 L443.04,250.81 L444.82,251.02 L446.60,251.24 L448.37,251.45 L450.15,251.67 L451.93,251.89 L453.70,252.12 L455.48,252.36 L457.26,252.60 L459.03,252.84 L460.81,253.10 L462.59,253.36 L464.36,253.63 L466.14,253.91 L467.92,254.20 L469.69,254.50 L471.47,254.81 L473.25,255.14 L475.02,255.47 L476.80,255.82 L478.58,256.18 L480.36,256.55 L482.13,256.93 L483.91,257.32 L485.69,257.72 L487.46,258.12 L489.24,258.53 L491.02,258.95 L492.79,259.38 L494.57,259.82 L496.35,260.28 L498.12,260.75 L499.90,261.24 L501.68,261.74 L503.45,262.27 L505.23,262.82 L507.01,263.39 L508.78,263.99 L510.56,264.62 L512.34,265.28 L514.11,265.97 L515.89,266.69 L517.67,267.45" fill="none" stroke="#1a1a1a" stroke-width="1.15" stroke-linecap="butt" stroke-linejoin="round"/>
<path d="M377.30,270.14 L378.82,269.80 L380.35,269.48 L381.87,269.18 L383.39,268.89 L384.91,268.61 L386.44,268.35 L387.96,268.11 L389.48,267.88 L391.01,267.67 L392.53,267.47 L394.05,267.28 L395.58,267.11 L397.10,266.96 L398.62,266.82 L400.14,266.69 L401.67,266.58 L403.19,266.49 L404.71,266.40 L406.24,266.34 L407.76,266.29 L409.28,266.26 L410.81,266.25 L412.33,266.28 L413.85,266.33 L415.37,266.41 L416.90,266.50 L418.42,266.60 L419.94,266.72 L421.47,266.84 L422.99,266.97 L424.51,267.11 L426.04,267.25 L427.56,267.40 L429.08,267.54 L430.60,267.70 L432.13,267.85 L433.65,268.00 L435.17,268.16 L436.70,268.31 L438.22,268.47 L439.74,268.63 L441.27,268.80 L442.79,268.96 L444.31,269.14 L445.83,269.31 L447.36,269.49 L448.88,269.68 L450.40,269.87 L451.93,270.07 L453.45,270.28 L454.97,270.49 L456.50,270.71 L458.02,270.94 L459.54,271.18 L461.06,271.43 L462.59,271.68 L464.11,271.95 L465.63,272.22 L467.16,272.50 L468.68,272.78 L470.20,273.07 L471.73,273.37 L473.25,273.67 L474.77,273.98 L476.29,274.30 L477.82,274.62 L479.34,274.96 L480.86,275.30 L482.39,275.66 L483.91,276.03 L485.43,276.42 L486.95,276.82 L488.48,277.24 L490.00,277.68 L491.52,278.14 L493.05,278.63 L494.57,279.13 L496.09,279.66 L497.62,280.22" fill="none" stroke="#1a1a1a" stroke-width="1.15" stroke-linecap="butt" stroke-linejoin="round"/>
<path d="M377.30,284.03 L378.57,283.80 L379.84,283.57 L381.11,283.36 L382.38,283.16 L383.65,282.97 L384.91,282.79 L386.18,282.62 L387.45,282.46 L388.72,282.31 L389.99,282.17 L391.26,282.05 L392.53,281.93 L393.80,281.82 L395.07,281.72 L396.34,281.64 L397.61,281.56 L398.88,281.49 L400.14,281.44 L401.41,281.39 L402.68,281.35 L403.95,281.33 L405.22,281.33 L406.49,281.35 L407.76,281.39 L409.03,281.44 L410.30,281.50 L411.57,281.58 L412.84,281.66 L414.11,281.74 L415.37,281.83 L416.64,281.93 L417.91,282.02 L419.18,282.13 L420.45,282.23 L421.72,282.33 L422.99,282.44 L424.26,282.55 L425.53,282.65 L426.80,282.76 L428.07,282.87 L429.34,282.98 L430.60,283.10 L431.87,283.21 L433.14,283.33 L434.41,283.46 L435.68,283.58 L436.95,283.71 L438.22,283.84 L439.49,283.98 L440.76,284.12 L442.03,284.27 L443.30,284.43 L444.57,284.59 L445.83,284.75 L447.10,284.92 L448.37,285.10 L449.64,285.28 L450.91,285.47 L452.18,285.67 L453.45,285.86 L454.72,286.07 L455.99,286.27 L457.26,286.48 L458.53,286.70 L459.79,286.92 L461.06,287.14 L462.33,287.37 L463.60,287.61 L464.87,287.86 L466.14,288.12 L467.41,288.39 L468.68,288.67 L469.95,288.96 L471.22,289.27 L472.49,289.59 L473.76,289.92 L475.02,290.28 L476.29,290.65 L477.56,291.03" fill="none" stroke="#1a1a1a" stroke-width="1.15" stroke-linecap="butt" stroke-linejoin="round"/>
<path d="M377.30,295.40 L378.32,295.25 L379.33,295.10 L380.35,294.97 L381.36,294.84 L382.38,294.72 L383.39,294.60 L384.41,294.49 L385.42,294.39 L386.44,294.30 L387.45,294.21 L388.47,294.13 L389.48,294.05 L390.50,293.98 L391.51,293.92 L392.53,293.86 L393.55,293.81 L394.56,293.77 L395.58,293.73 L396.59,293.70 L397.61,293.68 L398.62,293.67 L399.64,293.67 L400.65,293.68 L401.67,293.70 L402.68,293.74 L403.70,293.78 L404.71,293.82 L405.73,293.88 L406.74,293.93 L407.76,293.99 L408.78,294.05 L409.79,294.11 L410.81,294.18 L411.82,294.24 L412.84,294.31 L413.85,294.38 L414.87,294.45 L415.88,294.51 L416.90,294.58 L417.91,294.65 L418.93,294.73 L419.94,294.80 L420.96,294.87 L421.97,294.95 L422.99,295.03 L424.00,295.11 L425.02,295.19 L426.04,295.28 L427.05,295.36 L428.07,295.46 L429.08,295.55 L430.10,295.65 L431.11,295.75 L432.13,295.86 L433.14,295.97 L434.16,296.08 L435.17,296.20 L436.19,296.32 L437.20,296.44 L438.22,296.57 L439.23,296.70 L440.25,296.83 L441.27,296.97 L442.28,297.10 L443.30,297.24 L444.31,297.39 L445.33,297.54 L446.34,297.69 L447.36,297.85 L448.37,298.01 L449.39,298.19 L450.40,298.37 L451.42,298.55 L452.43,298.75 L453.45,298.95 L454.46,299.17 L455.48,299.39 L456.50,299.63 L457.51,299.88" fill="none" stroke="#1a1a1a" stroke-width="1.15" stroke-linecap="butt" stroke-linejoin="round"/>
<path d="M377.30,306.92 L378.61,306.79 L379.93,306.68 L381.24,306.57 L382.55,306.48 L383.87,306.40 L385.18,306.33 L386.50,306.28 L387.81,306.24 L389.12,306.20 L390.44,306.18 L391.75,306.19 L393.06,306.21 L394.38,306.25 L395.69,306.30 L397.01,306.35 L398.32,306.41 L399.63,306.47 L400.95,306.54 L402.26,306.60 L403.57,306.67 L404.89,306.75 L406.20,306.83 L407.52,306.91 L408.83,307.00 L410.14,307.10 L411.46,307.20 L412.77,307.31 L414.08,307.43 L415.40,307.56 L416.71,307.69 L418.02,307.83 L419.34,307.98 L420.65,308.13 L421.97,308.30 L423.28,308.48 L424.59,308.68 L425.91,308.89 L427.22,309.13 L428.53,309.38" fill="none" stroke="#1a1a1a" stroke-width="1.8" stroke-linecap="butt" stroke-linejoin="round"/>
<rect x="377.30" y="139.60" width="226.20" height="176.00" fill="none" stroke="#5e5f61" stroke-width="1.5"/>
<rect x="513.50" y="139.60" width="90.00" height="43.80" fill="#fff" stroke="#5e5f61" stroke-width="1.4"/>
<text x="515.10" y="148.70" font-size="7.7" font-weight="bold" font-style="normal" text-anchor="start" fill="#1a1a1c" stroke="#1a1a1c" stroke-width="0.18" textLength="86.1" lengthAdjust="spacingAndGlyphs">Wilo-CronoTwin-DL-E</text>
<text x="515.10" y="159.60" font-size="7.7" font-weight="bold" font-style="normal" text-anchor="start" fill="#1a1a1c" stroke="#1a1a1c" stroke-width="0.18" textLength="58.0" lengthAdjust="spacingAndGlyphs">65/210-18,5/2</text>
<circle cx="519.40" cy="167.00" r="4.3" fill="#fff" stroke="#333" stroke-width="0.75"/>
<path d="M519.40,163.05 L522.58,168.72 L516.22,168.72 Z" fill="#1a1a1a"/>
<text x="527.50" y="169.60" font-size="7.5" font-weight="normal" font-style="normal" text-anchor="middle" fill="#222" stroke="#222" stroke-width="0.18" >+</text>
<circle cx="536.00" cy="167.00" r="4.3" fill="#fff" stroke="#333" stroke-width="0.75"/>
<path d="M536.00,163.05 L539.18,168.72 L532.82,168.72 Z" fill="#1a1a1a"/>
<line x1="398.95" y1="167.10" x2="384.31" y2="313.00" stroke="#2a2a2a" stroke-width="1.6" stroke-dasharray="4.8 3.09"/>
<rect x="386.30" y="155.60" width="24.90" height="11.50" fill="#fff" stroke="#404042" stroke-width="1.4"/>
<text x="389.30" y="163.50" font-size="7.8" font-weight="bold" fill="#1c1c1e" textLength="18" lengthAdjust="spacingAndGlyphs"><tspan font-style="italic">Q</tspan><tspan dy="1.2" font-size="7.4">min</tspan></text>
<text x="404.30" y="204.30" font-size="7.75" font-weight="normal" font-style="normal" text-anchor="start" fill="#2c2c2e" stroke="#2c2c2e" stroke-width="0.18" >90%</text>
<text x="404.30" y="226.00" font-size="7.75" font-weight="normal" font-style="normal" text-anchor="start" fill="#2c2c2e" stroke="#2c2c2e" stroke-width="0.18" >80%</text>
<text x="404.30" y="246.60" font-size="7.75" font-weight="normal" font-style="normal" text-anchor="start" fill="#2c2c2e" stroke="#2c2c2e" stroke-width="0.18" >70%</text>
<text x="404.30" y="264.60" font-size="7.75" font-weight="normal" font-style="normal" text-anchor="start" fill="#2c2c2e" stroke="#2c2c2e" stroke-width="0.18" >60%</text>
<text x="404.30" y="279.20" font-size="7.75" font-weight="normal" font-style="normal" text-anchor="start" fill="#2c2c2e" stroke="#2c2c2e" stroke-width="0.18" >50%</text>
<text x="404.30" y="291.60" font-size="7.75" font-weight="normal" font-style="normal" text-anchor="start" fill="#2c2c2e" stroke="#2c2c2e" stroke-width="0.18" >40%</text>
<text x="404.30" y="304.40" font-size="7.75" font-weight="normal" font-style="normal" text-anchor="start" fill="#2c2c2e" stroke="#2c2c2e" stroke-width="0.18" >25%</text>
<rect x="404.20" y="168.4" width="61.2" height="8.4" fill="#fff"/>
<text x="405.00" y="175.20" font-size="7.7" font-weight="normal" font-style="normal" text-anchor="start" fill="#48484a" stroke="#48484a" stroke-width="0.18" textLength="59.6" lengthAdjust="spacingAndGlyphs">n=constant 100%</text>
<text x="374.00" y="318.40" font-size="7.75" font-weight="normal" font-style="normal" text-anchor="end" fill="#2c2c2e" stroke="#2c2c2e" stroke-width="0.18" >0</text>
<text x="374.00" y="296.40" font-size="7.75" font-weight="normal" font-style="normal" text-anchor="end" fill="#2c2c2e" stroke="#2c2c2e" stroke-width="0.18" >10</text>
<text x="374.00" y="274.40" font-size="7.75" font-weight="normal" font-style="normal" text-anchor="end" fill="#2c2c2e" stroke="#2c2c2e" stroke-width="0.18" >20</text>
<text x="374.00" y="252.40" font-size="7.75" font-weight="normal" font-style="normal" text-anchor="end" fill="#2c2c2e" stroke="#2c2c2e" stroke-width="0.18" >30</text>
<text x="374.00" y="230.40" font-size="7.75" font-weight="normal" font-style="normal" text-anchor="end" fill="#2c2c2e" stroke="#2c2c2e" stroke-width="0.18" >40</text>
<text x="374.00" y="208.40" font-size="7.75" font-weight="normal" font-style="normal" text-anchor="end" fill="#2c2c2e" stroke="#2c2c2e" stroke-width="0.18" >50</text>
<text x="374.00" y="186.40" font-size="7.75" font-weight="normal" font-style="normal" text-anchor="end" fill="#2c2c2e" stroke="#2c2c2e" stroke-width="0.18" >60</text>
<text x="374.00" y="164.40" font-size="7.75" font-weight="normal" font-style="normal" text-anchor="end" fill="#2c2c2e" stroke="#2c2c2e" stroke-width="0.18" >70</text>
<text x="374.00" y="145.80" font-size="7.5" font-weight="bold" font-style="normal" text-anchor="end" fill="#1c1c1e" stroke="#1c1c1e" stroke-width="0.22" textLength="14.0" lengthAdjust="spacingAndGlyphs"><tspan font-style="italic" font-size="6.9">H</tspan>/m</text>
<text x="605.60" y="145.50" font-size="7.5" font-weight="bold" font-style="normal" text-anchor="start" fill="#1c1c1e" stroke="#1c1c1e" stroke-width="0.22" textLength="19.5" lengthAdjust="spacingAndGlyphs"><tspan font-style="italic">p</tspan>/kPa</text>
<line x1="603.50" y1="315.60" x2="606.10" y2="315.60" stroke="#5e5f61" stroke-width="0.9"/>
<text x="609.30" y="317.90" font-size="7.75" font-weight="normal" font-style="normal" text-anchor="start" fill="#2c2c2e" stroke="#2c2c2e" stroke-width="0.18" >0</text>
<line x1="603.50" y1="293.17" x2="606.10" y2="293.17" stroke="#5e5f61" stroke-width="0.9"/>
<text x="609.30" y="295.47" font-size="7.75" font-weight="normal" font-style="normal" text-anchor="start" fill="#2c2c2e" stroke="#2c2c2e" stroke-width="0.18" >100</text>
<line x1="603.50" y1="270.75" x2="606.10" y2="270.75" stroke="#5e5f61" stroke-width="0.9"/>
<text x="609.30" y="273.05" font-size="7.75" font-weight="normal" font-style="normal" text-anchor="start" fill="#2c2c2e" stroke="#2c2c2e" stroke-width="0.18" >200</text>
<line x1="603.50" y1="248.32" x2="606.10" y2="248.32" stroke="#5e5f61" stroke-width="0.9"/>
<text x="609.30" y="250.62" font-size="7.75" font-weight="normal" font-style="normal" text-anchor="start" fill="#2c2c2e" stroke="#2c2c2e" stroke-width="0.18" >300</text>
<line x1="603.50" y1="225.89" x2="606.10" y2="225.89" stroke="#5e5f61" stroke-width="0.9"/>
<text x="609.30" y="228.19" font-size="7.75" font-weight="normal" font-style="normal" text-anchor="start" fill="#2c2c2e" stroke="#2c2c2e" stroke-width="0.18" >400</text>
<line x1="603.50" y1="203.47" x2="606.10" y2="203.47" stroke="#5e5f61" stroke-width="0.9"/>
<text x="609.30" y="205.77" font-size="7.75" font-weight="normal" font-style="normal" text-anchor="start" fill="#2c2c2e" stroke="#2c2c2e" stroke-width="0.18" >500</text>
<line x1="603.50" y1="181.04" x2="606.10" y2="181.04" stroke="#5e5f61" stroke-width="0.9"/>
<text x="609.30" y="183.34" font-size="7.75" font-weight="normal" font-style="normal" text-anchor="start" fill="#2c2c2e" stroke="#2c2c2e" stroke-width="0.18" >600</text>
<line x1="603.50" y1="158.61" x2="606.10" y2="158.61" stroke="#5e5f61" stroke-width="0.9"/>
<text x="609.30" y="160.91" font-size="7.75" font-weight="normal" font-style="normal" text-anchor="start" fill="#2c2c2e" stroke="#2c2c2e" stroke-width="0.18" >700</text>
<text x="376.50" y="326.00" font-size="7.75" font-weight="normal" font-style="normal" text-anchor="middle" fill="#2c2c2e" stroke="#2c2c2e" stroke-width="0.18" >0</text>
<text x="421.74" y="326.00" font-size="7.75" font-weight="normal" font-style="normal" text-anchor="middle" fill="#2c2c2e" stroke="#2c2c2e" stroke-width="0.18" >40</text>
<text x="466.98" y="326.00" font-size="7.75" font-weight="normal" font-style="normal" text-anchor="middle" fill="#2c2c2e" stroke="#2c2c2e" stroke-width="0.18" >80</text>
<text x="511.52" y="326.00" font-size="7.75" font-weight="normal" font-style="normal" text-anchor="middle" fill="#2c2c2e" stroke="#2c2c2e" stroke-width="0.18" >120</text>
<text x="556.76" y="326.00" font-size="7.75" font-weight="normal" font-style="normal" text-anchor="middle" fill="#2c2c2e" stroke="#2c2c2e" stroke-width="0.18" >160</text>
<text x="604.10" y="325.70" font-size="7.5" font-weight="bold" font-style="normal" text-anchor="end" fill="#1c1c1e" stroke="#1c1c1e" stroke-width="0.22" textLength="24.6" lengthAdjust="spacingAndGlyphs"><tspan font-style="italic">Q</tspan>/m³/h</text>
<line x1="376.80" y1="338.40" x2="603.50" y2="338.40" stroke="#525355" stroke-width="1.25"/>
<line x1="377.30" y1="338.40" x2="377.30" y2="340.80" stroke="#525355" stroke-width="1.1"/>
<text x="376.40" y="349.70" font-size="7.75" font-weight="normal" font-style="normal" text-anchor="middle" fill="#2c2c2e" stroke="#2c2c2e" stroke-width="0.18" >0</text>
<line x1="418.02" y1="338.40" x2="418.02" y2="340.80" stroke="#525355" stroke-width="1.1"/>
<text x="417.12" y="349.70" font-size="7.75" font-weight="normal" font-style="normal" text-anchor="middle" fill="#2c2c2e" stroke="#2c2c2e" stroke-width="0.18" >10</text>
<line x1="458.73" y1="338.40" x2="458.73" y2="340.80" stroke="#525355" stroke-width="1.1"/>
<text x="457.83" y="349.70" font-size="7.75" font-weight="normal" font-style="normal" text-anchor="middle" fill="#2c2c2e" stroke="#2c2c2e" stroke-width="0.18" >20</text>
<line x1="499.45" y1="338.40" x2="499.45" y2="340.80" stroke="#525355" stroke-width="1.1"/>
<text x="498.55" y="349.70" font-size="7.75" font-weight="normal" font-style="normal" text-anchor="middle" fill="#2c2c2e" stroke="#2c2c2e" stroke-width="0.18" >30</text>
<line x1="540.16" y1="338.40" x2="540.16" y2="340.80" stroke="#525355" stroke-width="1.1"/>
<text x="539.26" y="349.70" font-size="7.75" font-weight="normal" font-style="normal" text-anchor="middle" fill="#2c2c2e" stroke="#2c2c2e" stroke-width="0.18" >40</text>
<line x1="580.88" y1="338.40" x2="580.88" y2="340.80" stroke="#525355" stroke-width="1.1"/>
<text x="579.98" y="349.70" font-size="7.75" font-weight="normal" font-style="normal" text-anchor="middle" fill="#2c2c2e" stroke="#2c2c2e" stroke-width="0.18" >50</text>
<text x="603.40" y="349.70" font-size="7.5" font-weight="bold" font-style="normal" text-anchor="end" fill="#1c1c1e" stroke="#1c1c1e" stroke-width="0.22" textLength="15.9" lengthAdjust="spacingAndGlyphs"><tspan font-style="italic">Q</tspan>/l/s</text>
<line x1="422.54" y1="361.30" x2="422.54" y2="478.00" stroke="#56575a" stroke-width="0.8"/>
<line x1="467.78" y1="361.30" x2="467.78" y2="478.00" stroke="#56575a" stroke-width="0.8"/>
<line x1="513.02" y1="361.30" x2="513.02" y2="478.00" stroke="#56575a" stroke-width="0.8"/>
<line x1="558.26" y1="361.30" x2="558.26" y2="478.00" stroke="#56575a" stroke-width="0.8"/>
<line x1="377.30" y1="454.66" x2="603.50" y2="454.66" stroke="#626366" stroke-width="0.85"/>
<line x1="377.30" y1="431.32" x2="603.50" y2="431.32" stroke="#626366" stroke-width="0.85"/>
<line x1="377.30" y1="407.98" x2="603.50" y2="407.98" stroke="#626366" stroke-width="0.85"/>
<line x1="377.30" y1="384.64" x2="603.50" y2="384.64" stroke="#626366" stroke-width="0.85"/>
<path d="M377.30,442.76 L380.66,441.65 L384.03,440.54 L387.39,439.44 L390.76,438.34 L394.12,437.24 L397.49,436.14 L400.85,435.04 L404.21,433.95 L407.58,432.86 L410.94,431.77 L414.31,430.69 L417.67,429.61 L421.04,428.53 L424.40,427.46 L427.76,426.39 L431.13,425.33 L434.49,424.27 L437.86,423.21 L441.22,422.16 L444.58,421.11 L447.95,420.07 L451.31,419.04 L454.68,418.01 L458.04,416.98 L461.41,415.96 L464.77,414.95 L468.13,413.94 L471.50,412.94 L474.86,411.95 L478.23,410.96 L481.59,409.98 L484.96,409.00 L488.32,408.02 L491.68,407.05 L495.05,406.09 L498.41,405.13 L501.78,404.17 L505.14,403.21 L508.51,402.26 L511.87,401.30 L515.23,400.35 L518.60,399.40 L521.96,398.46 L525.33,397.52 L528.69,396.59 L532.06,395.66 L535.42,394.74 L538.78,393.83 L542.15,392.94 L545.51,392.05 L548.88,391.18 L552.24,390.33 L555.61,389.49 L558.97,388.67 L562.33,387.87 L565.70,387.09 L569.06,386.33 L572.43,385.59 L575.79,384.87" fill="none" stroke="#111" stroke-width="1.9" stroke-linecap="butt" stroke-linejoin="round"/>
<path d="M377.30,451.28 L380.35,450.43 L383.41,449.59 L386.46,448.74 L389.51,447.90 L392.57,447.06 L395.62,446.22 L398.68,445.38 L401.73,444.55 L404.78,443.71 L407.84,442.88 L410.89,442.05 L413.94,441.23 L417.00,440.41 L420.05,439.59 L423.11,438.77 L426.16,437.95 L429.21,437.14 L432.27,436.34 L435.32,435.53 L438.37,434.74 L441.43,433.94 L444.48,433.15 L447.54,432.36 L450.59,431.58 L453.64,430.80 L456.70,430.03 L459.75,429.26 L462.80,428.50 L465.86,427.74 L468.91,426.98 L471.96,426.23 L475.02,425.48 L478.07,424.74 L481.13,424.00 L484.18,423.26 L487.23,422.53 L490.29,421.79 L493.34,421.06 L496.39,420.33 L499.45,419.61 L502.50,418.88 L505.56,418.15 L508.61,417.43 L511.66,416.72 L514.72,416.00 L517.77,415.30 L520.82,414.60 L523.88,413.91 L526.93,413.23 L529.99,412.56 L533.04,411.90 L536.09,411.25 L539.15,410.61 L542.20,409.99 L545.25,409.38 L548.31,408.79 L551.36,408.22 L554.41,407.67 L557.47,407.13" fill="none" stroke="#2a2a2a" stroke-width="1.25" stroke-linecap="butt" stroke-linejoin="round"/>
<path d="M377.30,459.23 L380.01,458.64 L382.73,458.04 L385.44,457.45 L388.16,456.86 L390.87,456.27 L393.59,455.68 L396.30,455.09 L399.02,454.50 L401.73,453.92 L404.44,453.34 L407.16,452.75 L409.87,452.17 L412.59,451.60 L415.30,451.02 L418.02,450.45 L420.73,449.87 L423.44,449.31 L426.16,448.74 L428.87,448.18 L431.59,447.61 L434.30,447.06 L437.02,446.50 L439.73,445.95 L442.45,445.40 L445.16,444.85 L447.87,444.31 L450.59,443.77 L453.30,443.23 L456.02,442.70 L458.73,442.17 L461.45,441.64 L464.16,441.12 L466.88,440.59 L469.59,440.07 L472.30,439.56 L475.02,439.04 L477.73,438.52 L480.45,438.01 L483.16,437.50 L485.88,436.99 L488.59,436.48 L491.30,435.97 L494.02,435.46 L496.73,434.96 L499.45,434.46 L502.16,433.96 L504.88,433.47 L507.59,432.99 L510.31,432.51 L513.02,432.04 L515.73,431.57 L518.45,431.12 L521.16,430.67 L523.88,430.23 L526.59,429.81 L529.31,429.39 L532.02,428.99 L534.74,428.60 L537.45,428.23" fill="none" stroke="#2a2a2a" stroke-width="1.25" stroke-linecap="butt" stroke-linejoin="round"/>
<path d="M377.30,465.43 L379.68,465.03 L382.05,464.63 L384.43,464.23 L386.80,463.84 L389.18,463.44 L391.55,463.05 L393.93,462.65 L396.30,462.26 L398.68,461.87 L401.05,461.48 L403.43,461.09 L405.80,460.70 L408.18,460.31 L410.55,459.93 L412.93,459.54 L415.30,459.16 L417.68,458.78 L420.05,458.40 L422.43,458.02 L424.80,457.64 L427.18,457.27 L429.55,456.90 L431.93,456.53 L434.30,456.16 L436.68,455.79 L439.05,455.43 L441.43,455.07 L443.80,454.71 L446.18,454.35 L448.55,454.00 L450.93,453.64 L453.30,453.29 L455.68,452.94 L458.05,452.59 L460.43,452.24 L462.80,451.90 L465.18,451.55 L467.55,451.21 L469.93,450.87 L472.30,450.52 L474.68,450.18 L477.05,449.84 L479.43,449.50 L481.80,449.17 L484.18,448.83 L486.55,448.50 L488.93,448.17 L491.30,447.84 L493.68,447.52 L496.06,447.21 L498.43,446.90 L500.81,446.59 L503.18,446.29 L505.56,446.00 L507.93,445.72 L510.31,445.44 L512.68,445.17 L515.06,444.91 L517.43,444.65" fill="none" stroke="#2a2a2a" stroke-width="1.25" stroke-linecap="butt" stroke-linejoin="round"/>
<path d="M377.30,470.08 L379.34,469.83 L381.37,469.58 L383.41,469.33 L385.44,469.08 L387.48,468.83 L389.51,468.58 L391.55,468.34 L393.59,468.09 L395.62,467.84 L397.66,467.59 L399.69,467.35 L401.73,467.10 L403.77,466.86 L405.80,466.62 L407.84,466.38 L409.87,466.13 L411.91,465.89 L413.94,465.66 L415.98,465.42 L418.02,465.18 L420.05,464.95 L422.09,464.71 L424.12,464.48 L426.16,464.25 L428.19,464.02 L430.23,463.79 L432.27,463.56 L434.30,463.33 L436.34,463.11 L438.37,462.88 L440.41,462.66 L442.45,462.44 L444.48,462.22 L446.52,462.00 L448.55,461.78 L450.59,461.56 L452.62,461.35 L454.66,461.13 L456.70,460.91 L458.73,460.70 L460.77,460.48 L462.80,460.27 L464.84,460.05 L466.88,459.84 L468.91,459.63 L470.95,459.42 L472.98,459.21 L475.02,459.01 L477.05,458.81 L479.09,458.61 L481.13,458.41 L483.16,458.22 L485.20,458.03 L487.23,457.85 L489.27,457.67 L491.30,457.49 L493.34,457.32 L495.38,457.16 L497.41,457.00" fill="none" stroke="#2a2a2a" stroke-width="1.25" stroke-linecap="butt" stroke-linejoin="round"/>
<path d="M377.30,473.42 L379.00,473.27 L380.69,473.13 L382.39,472.98 L384.09,472.84 L385.78,472.69 L387.48,472.55 L389.18,472.41 L390.87,472.26 L392.57,472.12 L394.26,471.98 L395.96,471.84 L397.66,471.69 L399.35,471.55 L401.05,471.41 L402.75,471.27 L404.44,471.13 L406.14,470.99 L407.84,470.86 L409.53,470.72 L411.23,470.58 L412.93,470.45 L414.62,470.31 L416.32,470.17 L418.02,470.04 L419.71,469.91 L421.41,469.77 L423.11,469.64 L424.80,469.51 L426.50,469.38 L428.19,469.25 L429.89,469.12 L431.59,469.00 L433.28,468.87 L434.98,468.74 L436.68,468.61 L438.37,468.49 L440.07,468.36 L441.77,468.24 L443.46,468.11 L445.16,467.99 L446.86,467.86 L448.55,467.74 L450.25,467.61 L451.95,467.49 L453.64,467.37 L455.34,467.25 L457.04,467.13 L458.73,467.01 L460.43,466.89 L462.12,466.78 L463.82,466.67 L465.52,466.55 L467.21,466.45 L468.91,466.34 L470.61,466.23 L472.30,466.13 L474.00,466.04 L475.70,465.94 L477.39,465.85" fill="none" stroke="#2a2a2a" stroke-width="1.25" stroke-linecap="butt" stroke-linejoin="round"/>
<path d="M377.30,475.65 L378.66,475.58 L380.01,475.51 L381.37,475.43 L382.73,475.36 L384.09,475.28 L385.44,475.21 L386.80,475.14 L388.16,475.06 L389.51,474.99 L390.87,474.92 L392.23,474.84 L393.59,474.77 L394.94,474.70 L396.30,474.63 L397.66,474.56 L399.02,474.48 L400.37,474.41 L401.73,474.34 L403.09,474.27 L404.44,474.20 L405.80,474.13 L407.16,474.06 L408.52,473.99 L409.87,473.92 L411.23,473.86 L412.59,473.79 L413.94,473.72 L415.30,473.65 L416.66,473.59 L418.02,473.52 L419.37,473.46 L420.73,473.39 L422.09,473.32 L423.44,473.26 L424.80,473.19 L426.16,473.13 L427.52,473.07 L428.87,473.00 L430.23,472.94 L431.59,472.87 L432.95,472.81 L434.30,472.75 L435.66,472.68 L437.02,472.62 L438.37,472.56 L439.73,472.50 L441.09,472.43 L442.45,472.37 L443.80,472.31 L445.16,472.25 L446.52,472.20 L447.87,472.14 L449.23,472.08 L450.59,472.03 L451.95,471.98 L453.30,471.92 L454.66,471.87 L456.02,471.83 L457.37,471.78" fill="none" stroke="#2a2a2a" stroke-width="1.25" stroke-linecap="butt" stroke-linejoin="round"/>
<path d="M377.30,477.43 L382.92,477.31 L388.53,477.19 L394.15,477.07 L399.77,476.96 L405.39,476.86 L411.00,476.75 L416.62,476.65 L422.24,476.56 L427.86,476.47" fill="none" stroke="#111" stroke-width="2.2" stroke-linecap="butt" stroke-linejoin="round"/>
<rect x="377.30" y="361.30" width="226.20" height="116.70" fill="none" stroke="#5e5f61" stroke-width="1.5"/>
<rect x="575.90" y="381.40" width="21.50" height="7.2" fill="#fff"/>
<text x="576.70" y="387.80" font-size="7.75" font-weight="normal" font-style="normal" text-anchor="start" fill="#2c2c2e" stroke="#2c2c2e" stroke-width="0.18" >100%</text>
<rect x="559.00" y="403.20" width="17.00" height="7.2" fill="#fff"/>
<text x="559.80" y="409.60" font-size="7.75" font-weight="normal" font-style="normal" text-anchor="start" fill="#2c2c2e" stroke="#2c2c2e" stroke-width="0.18" >90%</text>
<text x="539.70" y="430.30" font-size="7.75" font-weight="normal" font-style="normal" text-anchor="start" fill="#2c2c2e" stroke="#2c2c2e" stroke-width="0.18" >80%</text>
<text x="519.50" y="447.20" font-size="7.75" font-weight="normal" font-style="normal" text-anchor="start" fill="#2c2c2e" stroke="#2c2c2e" stroke-width="0.18" >70%</text>
<text x="499.40" y="458.70" font-size="7.75" font-weight="normal" font-style="normal" text-anchor="start" fill="#2c2c2e" stroke="#2c2c2e" stroke-width="0.18" >60%</text>
<text x="479.90" y="468.20" font-size="7.75" font-weight="normal" font-style="normal" text-anchor="start" fill="#2c2c2e" stroke="#2c2c2e" stroke-width="0.18" >50%</text>
<text x="459.30" y="474.20" font-size="7.75" font-weight="normal" font-style="normal" text-anchor="start" fill="#2c2c2e" stroke="#2c2c2e" stroke-width="0.18" >40%</text>
<text x="435.50" y="478.30" font-size="7.75" font-weight="normal" font-style="normal" text-anchor="start" fill="#2c2c2e" stroke="#2c2c2e" stroke-width="0.18" >25%</text>
<text x="374.00" y="480.80" font-size="7.75" font-weight="normal" font-style="normal" text-anchor="end" fill="#2c2c2e" stroke="#2c2c2e" stroke-width="0.18" >0</text>
<text x="374.00" y="457.46" font-size="7.75" font-weight="normal" font-style="normal" text-anchor="end" fill="#2c2c2e" stroke="#2c2c2e" stroke-width="0.18" >10</text>
<text x="374.00" y="434.12" font-size="7.75" font-weight="normal" font-style="normal" text-anchor="end" fill="#2c2c2e" stroke="#2c2c2e" stroke-width="0.18" >20</text>
<text x="374.00" y="410.78" font-size="7.75" font-weight="normal" font-style="normal" text-anchor="end" fill="#2c2c2e" stroke="#2c2c2e" stroke-width="0.18" >30</text>
<text x="374.00" y="387.44" font-size="7.75" font-weight="normal" font-style="normal" text-anchor="end" fill="#2c2c2e" stroke="#2c2c2e" stroke-width="0.18" >40</text>
<text x="374.90" y="367.40" font-size="7.5" font-weight="bold" font-style="normal" text-anchor="end" fill="#1c1c1e" stroke="#1c1c1e" stroke-width="0.22" textLength="21.4" lengthAdjust="spacingAndGlyphs"><tspan font-style="italic">P</tspan><tspan font-size="5" dy="1.6">2</tspan><tspan dy="-1.6">/kW</tspan></text>
<text x="376.50" y="488.40" font-size="7.75" font-weight="normal" font-style="normal" text-anchor="middle" fill="#2c2c2e" stroke="#2c2c2e" stroke-width="0.18" >0</text>
<text x="421.74" y="488.40" font-size="7.75" font-weight="normal" font-style="normal" text-anchor="middle" fill="#2c2c2e" stroke="#2c2c2e" stroke-width="0.18" >40</text>
<text x="466.98" y="488.40" font-size="7.75" font-weight="normal" font-style="normal" text-anchor="middle" fill="#2c2c2e" stroke="#2c2c2e" stroke-width="0.18" >80</text>
<text x="511.52" y="488.40" font-size="7.75" font-weight="normal" font-style="normal" text-anchor="middle" fill="#2c2c2e" stroke="#2c2c2e" stroke-width="0.18" >120</text>
<text x="556.76" y="488.40" font-size="7.75" font-weight="normal" font-style="normal" text-anchor="middle" fill="#2c2c2e" stroke="#2c2c2e" stroke-width="0.18" >160</text>
<text x="604.10" y="488.10" font-size="7.5" font-weight="bold" font-style="normal" text-anchor="end" fill="#1c1c1e" stroke="#1c1c1e" stroke-width="0.22" textLength="24.6" lengthAdjust="spacingAndGlyphs"><tspan font-style="italic">Q</tspan>/m³/h</text>
<path d="M377.30,599.92 L508.50,534.67 L512.04,535.72 L515.58,536.83 L519.12,537.99 L522.66,539.20 L526.21,540.47 L529.75,541.78 L533.29,543.14 L536.83,544.53 L540.37,545.96 L543.91,547.45 L547.46,548.99 L551.00,550.61 L554.54,552.31 L558.08,554.11 L561.62,556.00 L565.17,558.01 L568.71,560.15 L572.25,562.42 L575.79,564.84 L570.90,569.74 L566.01,574.51 L561.12,579.16 L556.22,583.69 L551.33,588.10 L546.44,592.38 L541.55,596.54 L536.66,600.58 L531.76,604.50 L526.87,608.30 L521.98,611.97 L517.09,615.52 L512.20,618.95 L507.31,622.26 L502.41,625.45 L497.52,628.51 L492.63,631.45 L487.74,634.27 L482.85,636.97 L477.96,639.54 L473.06,641.99 L468.17,644.32 L463.28,646.53 L458.39,648.62 L453.50,650.58 L448.60,652.42 L443.71,654.14 L438.82,655.74 L433.93,657.22 L377.30,657.22 Z" fill="#a7a9ac"/>
<path d="M377.30,532.10 L501.48,532.10 L508.50,534.67 L377.30,599.92 Z" fill="#dbdedd"/>
<line x1="422.54" y1="501.70" x2="422.54" y2="665.40" stroke="#56575a" stroke-width="0.8"/>
<line x1="467.78" y1="501.70" x2="467.78" y2="665.40" stroke="#56575a" stroke-width="0.8"/>
<line x1="513.02" y1="501.70" x2="513.02" y2="665.40" stroke="#56575a" stroke-width="0.8"/>
<line x1="558.26" y1="501.70" x2="558.26" y2="665.40" stroke="#56575a" stroke-width="0.8"/>
<line x1="377.30" y1="642.01" x2="603.50" y2="642.01" stroke="#626366" stroke-width="0.85"/>
<line x1="377.30" y1="618.63" x2="603.50" y2="618.63" stroke="#626366" stroke-width="0.85"/>
<line x1="377.30" y1="595.24" x2="603.50" y2="595.24" stroke="#626366" stroke-width="0.85"/>
<line x1="377.30" y1="571.86" x2="603.50" y2="571.86" stroke="#626366" stroke-width="0.85"/>
<line x1="377.30" y1="548.47" x2="603.50" y2="548.47" stroke="#626366" stroke-width="0.85"/>
<line x1="377.30" y1="525.09" x2="603.50" y2="525.09" stroke="#626366" stroke-width="0.85"/>
<path d="M377.30,532.10 L501.48,532.10 L508.50,534.67 L512.04,535.72 L515.58,536.83 L519.12,537.99 L522.66,539.20 L526.21,540.47 L529.75,541.78 L533.29,543.14 L536.83,544.53 L540.37,545.96 L543.91,547.45 L547.46,548.99 L551.00,550.61 L554.54,552.31 L558.08,554.11 L561.62,556.00 L565.17,558.01 L568.71,560.15 L572.25,562.42 L575.79,564.84 L570.90,569.74 L566.01,574.51 L561.12,579.16 L556.22,583.69 L551.33,588.10 L546.44,592.38 L541.55,596.54 L536.66,600.58 L531.76,604.50 L526.87,608.30 L521.98,611.97 L517.09,615.52 L512.20,618.95 L507.31,622.26 L502.41,625.45 L497.52,628.51 L492.63,631.45 L487.74,634.27 L482.85,636.97 L477.96,639.54 L473.06,641.99 L468.17,644.32 L463.28,646.53 L458.39,648.62 L453.50,650.58 L448.60,652.42 L443.71,654.14 L438.82,655.74 L433.93,657.22 L377.30,657.22" fill="none" stroke="#111" stroke-width="2.0" stroke-linejoin="round"/>
<path d="M377.30,599.92 L508.50,534.67" fill="none" stroke="#111" stroke-width="2.0"/>
<rect x="377.30" y="501.70" width="226.20" height="163.70" fill="none" stroke="#5e5f61" stroke-width="1.5"/>
<rect x="513.30" y="501.70" width="90.20" height="32.10" fill="#fff" stroke="#5e5f61" stroke-width="1.4"/>
<text x="515.10" y="510.10" font-size="7.7" font-weight="bold" font-style="normal" text-anchor="start" fill="#1a1a1c" stroke="#1a1a1c" stroke-width="0.18" textLength="86.1" lengthAdjust="spacingAndGlyphs">Wilo-CronoTwin-DL-E</text>
<text x="515.10" y="520.10" font-size="7.7" font-weight="bold" font-style="normal" text-anchor="start" fill="#1a1a1c" stroke="#1a1a1c" stroke-width="0.18" textLength="58.0" lengthAdjust="spacingAndGlyphs">65/210-18,5/2</text>
<circle cx="519.20" cy="527.10" r="4.3" fill="#fff" stroke="#333" stroke-width="0.75"/>
<path d="M519.20,523.15 L522.38,528.82 L516.02,528.82 Z" fill="#1a1a1a"/>
<text x="527.30" y="529.70" font-size="7.5" font-weight="normal" font-style="normal" text-anchor="middle" fill="#222" stroke="#222" stroke-width="0.18" >+</text>
<circle cx="535.80" cy="527.10" r="4.3" fill="#fff" stroke="#333" stroke-width="0.75"/>
<path d="M535.80,523.15 L538.98,528.82 L532.62,528.82 Z" fill="#1a1a1a"/>
<line x1="397.30" y1="525.10" x2="384.20" y2="662.80" stroke="#2a2a2a" stroke-width="1.6" stroke-dasharray="4.8 3.09"/>
<rect x="384.40" y="513.10" width="25.40" height="12.00" fill="#fff" stroke="#404042" stroke-width="1.4"/>
<text x="387.40" y="521.00" font-size="7.8" font-weight="bold" fill="#1c1c1e" textLength="18" lengthAdjust="spacingAndGlyphs"><tspan font-style="italic">Q</tspan><tspan dy="1.2" font-size="7.4">min</tspan></text>
<text x="374.00" y="668.20" font-size="7.75" font-weight="normal" font-style="normal" text-anchor="end" fill="#2c2c2e" stroke="#2c2c2e" stroke-width="0.18" >0</text>
<text x="374.00" y="644.81" font-size="7.75" font-weight="normal" font-style="normal" text-anchor="end" fill="#2c2c2e" stroke="#2c2c2e" stroke-width="0.18" >10</text>
<text x="374.00" y="621.43" font-size="7.75" font-weight="normal" font-style="normal" text-anchor="end" fill="#2c2c2e" stroke="#2c2c2e" stroke-width="0.18" >20</text>
<text x="374.00" y="598.04" font-size="7.75" font-weight="normal" font-style="normal" text-anchor="end" fill="#2c2c2e" stroke="#2c2c2e" stroke-width="0.18" >30</text>
<text x="374.00" y="574.66" font-size="7.75" font-weight="normal" font-style="normal" text-anchor="end" fill="#2c2c2e" stroke="#2c2c2e" stroke-width="0.18" >40</text>
<text x="374.00" y="551.27" font-size="7.75" font-weight="normal" font-style="normal" text-anchor="end" fill="#2c2c2e" stroke="#2c2c2e" stroke-width="0.18" >50</text>
<text x="374.00" y="527.89" font-size="7.75" font-weight="normal" font-style="normal" text-anchor="end" fill="#2c2c2e" stroke="#2c2c2e" stroke-width="0.18" >60</text>
<text x="374.00" y="507.90" font-size="7.5" font-weight="bold" font-style="normal" text-anchor="end" fill="#1c1c1e" stroke="#1c1c1e" stroke-width="0.22" textLength="14.0" lengthAdjust="spacingAndGlyphs"><tspan font-style="italic" font-size="6.9">H</tspan>/m</text>
<text x="605.60" y="507.60" font-size="7.5" font-weight="bold" font-style="normal" text-anchor="start" fill="#1c1c1e" stroke="#1c1c1e" stroke-width="0.22" textLength="19.5" lengthAdjust="spacingAndGlyphs"><tspan font-style="italic">p</tspan>/kPa</text>
<line x1="603.50" y1="665.40" x2="606.10" y2="665.40" stroke="#5e5f61" stroke-width="0.9"/>
<text x="609.30" y="667.70" font-size="7.75" font-weight="normal" font-style="normal" text-anchor="start" fill="#2c2c2e" stroke="#2c2c2e" stroke-width="0.18" >0</text>
<line x1="603.50" y1="641.56" x2="606.10" y2="641.56" stroke="#5e5f61" stroke-width="0.9"/>
<text x="609.30" y="643.86" font-size="7.75" font-weight="normal" font-style="normal" text-anchor="start" fill="#2c2c2e" stroke="#2c2c2e" stroke-width="0.18" >100</text>
<line x1="603.50" y1="617.72" x2="606.10" y2="617.72" stroke="#5e5f61" stroke-width="0.9"/>
<text x="609.30" y="620.02" font-size="7.75" font-weight="normal" font-style="normal" text-anchor="start" fill="#2c2c2e" stroke="#2c2c2e" stroke-width="0.18" >200</text>
<line x1="603.50" y1="593.88" x2="606.10" y2="593.88" stroke="#5e5f61" stroke-width="0.9"/>
<text x="609.30" y="596.18" font-size="7.75" font-weight="normal" font-style="normal" text-anchor="start" fill="#2c2c2e" stroke="#2c2c2e" stroke-width="0.18" >300</text>
<line x1="603.50" y1="570.04" x2="606.10" y2="570.04" stroke="#5e5f61" stroke-width="0.9"/>
<text x="609.30" y="572.34" font-size="7.75" font-weight="normal" font-style="normal" text-anchor="start" fill="#2c2c2e" stroke="#2c2c2e" stroke-width="0.18" >400</text>
<line x1="603.50" y1="546.20" x2="606.10" y2="546.20" stroke="#5e5f61" stroke-width="0.9"/>
<text x="609.30" y="548.50" font-size="7.75" font-weight="normal" font-style="normal" text-anchor="start" fill="#2c2c2e" stroke="#2c2c2e" stroke-width="0.18" >500</text>
<line x1="603.50" y1="522.36" x2="606.10" y2="522.36" stroke="#5e5f61" stroke-width="0.9"/>
<text x="609.30" y="524.66" font-size="7.75" font-weight="normal" font-style="normal" text-anchor="start" fill="#2c2c2e" stroke="#2c2c2e" stroke-width="0.18" >600</text>
<text x="376.50" y="675.80" font-size="7.75" font-weight="normal" font-style="normal" text-anchor="middle" fill="#2c2c2e" stroke="#2c2c2e" stroke-width="0.18" >0</text>
<text x="421.74" y="675.80" font-size="7.75" font-weight="normal" font-style="normal" text-anchor="middle" fill="#2c2c2e" stroke="#2c2c2e" stroke-width="0.18" >40</text>
<text x="466.98" y="675.80" font-size="7.75" font-weight="normal" font-style="normal" text-anchor="middle" fill="#2c2c2e" stroke="#2c2c2e" stroke-width="0.18" >80</text>
<text x="511.52" y="675.80" font-size="7.75" font-weight="normal" font-style="normal" text-anchor="middle" fill="#2c2c2e" stroke="#2c2c2e" stroke-width="0.18" >120</text>
<text x="556.76" y="675.80" font-size="7.75" font-weight="normal" font-style="normal" text-anchor="middle" fill="#2c2c2e" stroke="#2c2c2e" stroke-width="0.18" >160</text>
<text x="604.10" y="675.50" font-size="7.5" font-weight="bold" font-style="normal" text-anchor="end" fill="#1c1c1e" stroke="#1c1c1e" stroke-width="0.22" textLength="24.6" lengthAdjust="spacingAndGlyphs"><tspan font-style="italic">Q</tspan>/m³/h</text>
<line x1="376.80" y1="687.00" x2="603.50" y2="687.00" stroke="#525355" stroke-width="1.25"/>
<line x1="377.30" y1="687.00" x2="377.30" y2="689.40" stroke="#525355" stroke-width="1.1"/>
<text x="376.40" y="698.30" font-size="7.75" font-weight="normal" font-style="normal" text-anchor="middle" fill="#2c2c2e" stroke="#2c2c2e" stroke-width="0.18" >0</text>
<line x1="418.02" y1="687.00" x2="418.02" y2="689.40" stroke="#525355" stroke-width="1.1"/>
<text x="417.12" y="698.30" font-size="7.75" font-weight="normal" font-style="normal" text-anchor="middle" fill="#2c2c2e" stroke="#2c2c2e" stroke-width="0.18" >10</text>
<line x1="458.73" y1="687.00" x2="458.73" y2="689.40" stroke="#525355" stroke-width="1.1"/>
<text x="457.83" y="698.30" font-size="7.75" font-weight="normal" font-style="normal" text-anchor="middle" fill="#2c2c2e" stroke="#2c2c2e" stroke-width="0.18" >20</text>
<line x1="499.45" y1="687.00" x2="499.45" y2="689.40" stroke="#525355" stroke-width="1.1"/>
<text x="498.55" y="698.30" font-size="7.75" font-weight="normal" font-style="normal" text-anchor="middle" fill="#2c2c2e" stroke="#2c2c2e" stroke-width="0.18" >30</text>
<line x1="540.16" y1="687.00" x2="540.16" y2="689.40" stroke="#525355" stroke-width="1.1"/>
<text x="539.26" y="698.30" font-size="7.75" font-weight="normal" font-style="normal" text-anchor="middle" fill="#2c2c2e" stroke="#2c2c2e" stroke-width="0.18" >40</text>
<line x1="580.88" y1="687.00" x2="580.88" y2="689.40" stroke="#525355" stroke-width="1.1"/>
<text x="579.98" y="698.30" font-size="7.75" font-weight="normal" font-style="normal" text-anchor="middle" fill="#2c2c2e" stroke="#2c2c2e" stroke-width="0.18" >50</text>
<text x="603.40" y="698.30" font-size="7.5" font-weight="bold" font-style="normal" text-anchor="end" fill="#1c1c1e" stroke="#1c1c1e" stroke-width="0.22" textLength="15.9" lengthAdjust="spacingAndGlyphs"><tspan font-style="italic">Q</tspan>/l/s</text>
<rect x="434.30" y="522.20" width="21.2" height="8" fill="#fff"/>
<text x="436.90" y="528.70" font-size="7.6" font-weight="normal" font-style="normal" text-anchor="start" fill="#2c2c2e" stroke="#2c2c2e" stroke-width="0.18" >Δp-c</text>
<text transform="translate(438.8,564.0) rotate(-27)" font-size="7.6" fill="#2c2c2e">Δp-v</text>
<text transform="translate(564.1,554.6) rotate(30.5)" font-size="7.6" fill="#2c2c2e">max.</text>
<line x1="422.54" y1="709.60" x2="422.54" y2="763.80" stroke="#56575a" stroke-width="0.8"/>
<line x1="467.78" y1="709.60" x2="467.78" y2="763.80" stroke="#56575a" stroke-width="0.8"/>
<line x1="513.02" y1="709.60" x2="513.02" y2="763.80" stroke="#56575a" stroke-width="0.8"/>
<line x1="558.26" y1="709.60" x2="558.26" y2="763.80" stroke="#56575a" stroke-width="0.8"/>
<line x1="377.30" y1="752.96" x2="603.50" y2="752.96" stroke="#626366" stroke-width="0.85"/>
<line x1="377.30" y1="742.12" x2="603.50" y2="742.12" stroke="#626366" stroke-width="0.85"/>
<line x1="377.30" y1="731.28" x2="603.50" y2="731.28" stroke="#626366" stroke-width="0.85"/>
<line x1="377.30" y1="720.44" x2="603.50" y2="720.44" stroke="#626366" stroke-width="0.85"/>
<path d="M377.30,746.89 L379.81,746.77 L382.33,746.63 L384.84,746.47 L387.35,746.31 L389.86,746.13 L392.38,745.93 L394.89,745.73 L397.40,745.51 L399.91,745.28 L402.43,745.03 L404.94,744.78 L407.45,744.51 L409.96,744.23 L412.48,743.94 L414.99,743.64 L417.50,743.32 L420.01,743.00 L422.53,742.66 L425.04,742.32 L427.55,741.96 L430.06,741.60 L432.58,741.22 L435.09,740.84 L437.60,740.44 L440.11,740.04 L442.63,739.63 L445.14,739.21 L447.65,738.78 L450.16,738.35 L452.68,737.90 L455.19,737.45 L457.70,736.99 L460.21,736.52 L462.73,736.05 L465.24,735.57 L467.75,735.08 L470.26,734.59 L472.78,734.09 L475.29,733.59 L477.80,733.08 L480.31,732.58 L482.83,732.07 L485.34,731.57 L487.85,731.08 L490.36,730.58 L492.88,730.10 L495.39,729.62 L497.90,729.15 L500.41,728.69 L502.93,728.25 L505.44,727.82 L507.95,727.40 L510.46,727.01 L512.98,726.63 L515.49,726.26 L518.00,725.92 L520.51,725.60 L523.03,725.28 L525.54,724.99 L528.05,724.70 L530.56,724.43 L533.08,724.17 L535.59,723.91 L538.10,723.67 L540.61,723.42 L543.13,723.18 L545.64,722.95 L548.15,722.71 L550.67,722.48 L553.18,722.24 L555.69,722.00 L558.20,721.75 L560.72,721.50 L563.23,721.24 L565.74,720.98 L568.25,720.70 L570.77,720.41 L573.28,720.11 L575.79,719.79" fill="none" stroke="#1a1a1a" stroke-width="2.1" stroke-linecap="butt" stroke-linejoin="round"/>
<path d="M377.30,752.20 L379.73,752.18 L382.17,752.14 L384.60,752.08 L387.04,752.00 L389.47,751.90 L391.90,751.79 L394.34,751.65 L396.77,751.50 L399.20,751.34 L401.64,751.16 L404.07,750.96 L406.51,750.75 L408.94,750.53 L411.37,750.29 L413.81,750.04 L416.24,749.78 L418.67,749.51 L421.11,749.23 L423.54,748.94 L425.98,748.63 L428.41,748.32 L430.84,748.00 L433.28,747.68 L435.71,747.34 L438.14,747.00 L440.58,746.65 L443.01,746.30 L445.45,745.95 L447.88,745.59 L450.31,745.22 L452.75,744.85 L455.18,744.48 L457.62,744.11 L460.05,743.74 L462.48,743.37 L464.92,742.99 L467.35,742.62 L469.78,742.25 L472.22,741.88 L474.65,741.50 L477.09,741.13 L479.52,740.75 L481.95,740.37 L484.39,739.98 L486.82,739.59 L489.25,739.19 L491.69,738.78 L494.12,738.36 L496.56,737.93 L498.99,737.49 L501.42,737.03 L503.86,736.56 L506.29,736.07 L508.73,735.57 L511.16,735.05 L513.59,734.51 L516.03,733.95 L518.46,733.38 L520.89,732.79 L523.33,732.18 L525.76,731.56 L528.20,730.93 L530.63,730.30 L533.06,729.65 L535.50,729.01 L537.93,728.35 L540.36,727.70 L542.80,727.05 L545.23,726.40 L547.67,725.76 L550.10,725.12 L552.53,724.49 L554.97,723.86 L557.40,723.25 L559.83,722.66 L562.27,722.08 L564.70,721.51 L567.14,720.97 L569.57,720.44" fill="none" stroke="#1a1a1a" stroke-width="1.45" stroke-linecap="butt" stroke-linejoin="round"/>
<path d="M377.30,756.43 L379.42,756.33 L381.55,756.24 L383.67,756.14 L385.80,756.04 L387.92,755.95 L390.05,755.85 L392.17,755.75 L394.30,755.66 L396.42,755.56 L398.55,755.46 L400.67,755.35 L402.79,755.25 L404.92,755.14 L407.04,755.03 L409.17,754.92 L411.29,754.81 L413.42,754.69 L415.54,754.57 L417.67,754.45 L419.79,754.32 L421.92,754.19 L424.04,754.06 L426.16,753.92 L428.29,753.77 L430.41,753.63 L432.54,753.47 L434.66,753.32 L436.79,753.15 L438.91,752.98 L441.04,752.81 L443.16,752.63 L445.29,752.44 L447.41,752.25 L449.54,752.05 L451.66,751.84 L453.78,751.63 L455.91,751.41 L458.03,751.18 L460.16,750.95 L462.28,750.70 L464.41,750.45 L466.53,750.19 L468.66,749.92 L470.78,749.64 L472.91,749.36 L475.03,749.06 L477.15,748.76 L479.28,748.45 L481.40,748.14 L483.53,747.81 L485.65,747.49 L487.78,747.15 L489.90,746.81 L492.03,746.46 L494.15,746.11 L496.28,745.75 L498.40,745.38 L500.52,745.02 L502.65,744.64 L504.77,744.27 L506.90,743.89 L509.02,743.50 L511.15,743.11 L513.27,742.72 L515.40,742.33 L517.52,741.94 L519.65,741.54 L521.77,741.14 L523.89,740.74 L526.02,740.33 L528.14,739.93 L530.27,739.53 L532.39,739.12 L534.52,738.72 L536.64,738.31 L538.77,737.91 L540.89,737.50 L543.02,737.10 L545.14,736.70" fill="none" stroke="#1a1a1a" stroke-width="1.45" stroke-linecap="butt" stroke-linejoin="round"/>
<path d="M377.30,760.33 L378.92,760.30 L380.54,760.27 L382.15,760.23 L383.77,760.19 L385.39,760.16 L387.01,760.12 L388.62,760.07 L390.24,760.03 L391.86,759.99 L393.48,759.94 L395.10,759.89 L396.71,759.84 L398.33,759.79 L399.95,759.74 L401.57,759.68 L403.18,759.63 L404.80,759.57 L406.42,759.51 L408.04,759.45 L409.66,759.38 L411.27,759.32 L412.89,759.25 L414.51,759.18 L416.13,759.11 L417.74,759.04 L419.36,758.97 L420.98,758.89 L422.60,758.81 L424.22,758.73 L425.83,758.65 L427.45,758.56 L429.07,758.48 L430.69,758.39 L432.30,758.30 L433.92,758.21 L435.54,758.11 L437.16,758.02 L438.77,757.92 L440.39,757.82 L442.01,757.71 L443.63,757.61 L445.25,757.50 L446.86,757.39 L448.48,757.28 L450.10,757.17 L451.72,757.05 L453.33,756.93 L454.95,756.81 L456.57,756.69 L458.19,756.57 L459.81,756.44 L461.42,756.31 L463.04,756.18 L464.66,756.04 L466.28,755.91 L467.89,755.77 L469.51,755.63 L471.13,755.48 L472.75,755.34 L474.37,755.19 L475.98,755.04 L477.60,754.88 L479.22,754.73 L480.84,754.57 L482.45,754.41 L484.07,754.24 L485.69,754.08 L487.31,753.91 L488.93,753.74 L490.54,753.56 L492.16,753.39 L493.78,753.21 L495.40,753.03 L497.01,752.84 L498.63,752.65 L500.25,752.46 L501.87,752.27 L503.49,752.07 L505.10,751.88" fill="none" stroke="#1a1a1a" stroke-width="1.45" stroke-linecap="butt" stroke-linejoin="round"/>
<path d="M377.30,762.99 L378.02,762.99 L378.73,762.99 L379.45,762.99 L380.16,762.99 L380.88,762.99 L381.59,762.99 L382.31,762.99 L383.03,762.99 L383.74,762.99 L384.46,762.99 L385.17,762.99 L385.89,762.99 L386.61,762.99 L387.32,762.99 L388.04,762.99 L388.75,762.99 L389.47,762.99 L390.18,762.99 L390.90,762.99 L391.62,762.99 L392.33,762.99 L393.05,762.99 L393.76,762.99 L394.48,762.99 L395.20,762.99 L395.91,762.99 L396.63,762.99 L397.34,762.99 L398.06,762.99 L398.77,762.99 L399.49,762.99 L400.21,762.99 L400.92,762.99 L401.64,762.99 L402.35,762.99 L403.07,762.99 L403.79,762.99 L404.50,762.99 L405.22,762.99 L405.93,762.99 L406.65,762.99 L407.36,762.99 L408.08,762.99 L408.80,762.99 L409.51,762.99 L410.23,762.99 L410.94,762.99 L411.66,762.99 L412.38,762.99 L413.09,762.99 L413.81,762.99 L414.52,762.99 L415.24,762.99 L415.95,762.99 L416.67,762.99 L417.39,762.99 L418.10,762.99 L418.82,762.99 L419.53,762.99 L420.25,762.99 L420.97,762.99 L421.68,762.99 L422.40,762.99 L423.11,762.99 L423.83,762.99 L424.54,762.99 L425.26,762.99 L425.98,762.99 L426.69,762.99 L427.41,762.99 L428.12,762.99 L428.84,762.99 L429.56,762.99 L430.27,762.99 L430.99,762.99 L431.70,762.99 L432.42,762.99 L433.13,762.99 L433.85,762.99" fill="none" stroke="#1a1a1a" stroke-width="2.4" stroke-linecap="butt" stroke-linejoin="round"/>
<rect x="377.30" y="709.60" width="226.20" height="54.20" fill="none" stroke="#5e5f61" stroke-width="1.5"/>
<text transform="translate(559.8,718.8) rotate(-3)" font-size="7.6" fill="#2c2c2e">max.</text>
<text transform="translate(490.8,738.0) rotate(-10)" font-size="7.6" fill="#2c2c2e">44m</text>
<text transform="translate(529.4,739.0) rotate(-12)" font-size="7.6" fill="#2c2c2e">31m</text>
<text transform="translate(506,752.0) rotate(-5)" font-size="7.6" fill="#2c2c2e">18m</text>
<text transform="translate(443.4,763.8) rotate(0)" font-size="7.6" fill="#2c2c2e">3.5m</text>
<text x="374.00" y="766.20" font-size="7.75" font-weight="normal" font-style="normal" text-anchor="end" fill="#2c2c2e" stroke="#2c2c2e" stroke-width="0.18" >0</text>
<text x="374.00" y="755.36" font-size="7.75" font-weight="normal" font-style="normal" text-anchor="end" fill="#2c2c2e" stroke="#2c2c2e" stroke-width="0.18" >10</text>
<text x="374.00" y="744.52" font-size="7.75" font-weight="normal" font-style="normal" text-anchor="end" fill="#2c2c2e" stroke="#2c2c2e" stroke-width="0.18" >20</text>
<text x="374.00" y="733.68" font-size="7.75" font-weight="normal" font-style="normal" text-anchor="end" fill="#2c2c2e" stroke="#2c2c2e" stroke-width="0.18" >30</text>
<text x="374.10" y="714.90" font-size="7.5" font-weight="bold" font-style="normal" text-anchor="end" fill="#1c1c1e" stroke="#1c1c1e" stroke-width="0.22" textLength="16.9" lengthAdjust="spacingAndGlyphs">Δp-c</text>
<text x="374.50" y="724.30" font-size="7.5" font-weight="bold" font-style="normal" text-anchor="end" fill="#1c1c1e" stroke="#1c1c1e" stroke-width="0.22" textLength="21.4" lengthAdjust="spacingAndGlyphs"><tspan font-style="italic">P</tspan><tspan font-size="5" dy="1.6">1</tspan><tspan dy="-1.6">/kW</tspan></text>
<text x="376.50" y="774.20" font-size="7.75" font-weight="normal" font-style="normal" text-anchor="middle" fill="#2c2c2e" stroke="#2c2c2e" stroke-width="0.18" >0</text>
<text x="421.74" y="774.20" font-size="7.75" font-weight="normal" font-style="normal" text-anchor="middle" fill="#2c2c2e" stroke="#2c2c2e" stroke-width="0.18" >40</text>
<text x="466.98" y="774.20" font-size="7.75" font-weight="normal" font-style="normal" text-anchor="middle" fill="#2c2c2e" stroke="#2c2c2e" stroke-width="0.18" >80</text>
<text x="511.52" y="774.20" font-size="7.75" font-weight="normal" font-style="normal" text-anchor="middle" fill="#2c2c2e" stroke="#2c2c2e" stroke-width="0.18" >120</text>
<text x="556.76" y="774.20" font-size="7.75" font-weight="normal" font-style="normal" text-anchor="middle" fill="#2c2c2e" stroke="#2c2c2e" stroke-width="0.18" >160</text>
<text x="604.10" y="773.90" font-size="7.5" font-weight="bold" font-style="normal" text-anchor="end" fill="#1c1c1e" stroke="#1c1c1e" stroke-width="0.22" textLength="24.6" lengthAdjust="spacingAndGlyphs"><tspan font-style="italic">Q</tspan>/m³/h</text>
<line x1="422.54" y1="786.00" x2="422.54" y2="840.50" stroke="#56575a" stroke-width="0.8"/>
<line x1="467.78" y1="786.00" x2="467.78" y2="840.50" stroke="#56575a" stroke-width="0.8"/>
<line x1="513.02" y1="786.00" x2="513.02" y2="840.50" stroke="#56575a" stroke-width="0.8"/>
<line x1="558.26" y1="786.00" x2="558.26" y2="840.50" stroke="#56575a" stroke-width="0.8"/>
<line x1="377.30" y1="827.17" x2="603.50" y2="827.17" stroke="#626366" stroke-width="0.85"/>
<line x1="377.30" y1="813.85" x2="603.50" y2="813.85" stroke="#626366" stroke-width="0.85"/>
<line x1="377.30" y1="800.52" x2="603.50" y2="800.52" stroke="#626366" stroke-width="0.85"/>
<path d="M377.30,840.50 L379.80,839.11 L382.30,837.74 L384.79,836.39 L387.29,835.05 L389.79,833.73 L392.29,832.43 L394.79,831.15 L397.29,829.88 L399.78,828.64 L402.28,827.43 L404.78,826.23 L407.28,825.06 L409.78,823.92 L412.28,822.80 L414.77,821.71 L417.27,820.64 L419.77,819.61 L422.27,818.60 L424.77,817.63 L427.26,816.68 L429.76,815.76 L432.26,814.87 L434.76,814.01 L437.26,813.17 L439.76,812.35 L442.25,811.56 L444.75,810.79 L447.25,810.03 L449.75,809.30 L452.25,808.59 L454.74,807.90 L457.24,807.23 L459.74,806.59 L462.24,805.96 L464.74,805.36 L467.24,804.79 L469.73,804.24 L472.23,803.71 L474.73,803.22 L477.23,802.75 L479.73,802.31 L482.23,801.90 L484.72,801.52 L487.22,801.17 L489.72,800.86 L492.22,800.59 L494.72,800.34 L497.21,800.11 L499.71,799.89 L502.21,799.68 L504.71,799.45 L507.21,799.21 L509.71,798.93 L512.20,798.63 L514.70,798.32 L517.20,798.01 L519.70,797.73 L522.20,797.51 L524.70,797.36 L527.19,797.31 L529.69,797.36 L532.19,797.50 L534.69,797.71 L537.19,797.96 L539.68,798.25 L542.18,798.54 L544.68,798.83 L547.18,799.13 L549.68,799.43 L552.18,799.72 L554.67,800.02 L557.17,800.32 L559.67,800.61 L562.17,800.89 L564.67,801.17 L567.16,801.45 L569.66,801.71 L572.16,801.97 L574.66,802.21" fill="none" stroke="#1a1a1a" stroke-width="2.2" stroke-linecap="round" stroke-linejoin="round"/>
<path d="M393.93,832.64 L396.21,832.60 L398.50,832.56 L400.79,832.53 L403.08,832.50 L405.36,832.47 L407.65,832.44 L409.94,832.41 L412.23,832.37 L414.52,832.34 L416.80,832.30 L419.09,832.26 L421.38,832.21 L423.67,832.16 L425.95,832.10 L428.24,832.03 L430.53,831.95 L432.82,831.86 L435.11,831.76 L437.39,831.65 L439.68,831.53 L441.97,831.39 L444.26,831.24 L446.54,831.07 L448.83,830.89 L451.12,830.69 L453.41,830.47 L455.70,830.24 L457.98,830.00 L460.27,829.74 L462.56,829.46 L464.85,829.17 L467.13,828.86 L469.42,828.54 L471.71,828.21 L474.00,827.85 L476.29,827.48 L478.57,827.10 L480.86,826.69 L483.15,826.26 L485.44,825.82 L487.72,825.35 L490.01,824.86 L492.30,824.35 L494.59,823.82 L496.88,823.27 L499.16,822.70 L501.45,822.12 L503.74,821.53 L506.03,820.93 L508.31,820.33 L510.60,819.72 L512.89,819.11 L515.18,818.49 L517.47,817.86 L519.75,817.22 L522.04,816.57 L524.33,815.90 L526.62,815.21 L528.90,814.49 L531.19,813.75 L533.48,812.97 L535.77,812.17 L538.06,811.33 L540.34,810.45 L542.63,809.53 L544.92,808.58 L547.21,807.60 L549.49,806.60 L551.78,805.58 L554.07,804.55 L556.36,803.52 L558.65,802.48 L560.93,801.45 L563.22,800.44 L565.51,799.44 L567.80,798.46 L570.08,797.51 L572.37,796.60 L574.66,795.73" fill="none" stroke="#1a1a1a" stroke-width="2.2" stroke-linecap="butt" stroke-linejoin="round"/>
<rect x="377.30" y="786.00" width="226.20" height="54.50" fill="none" stroke="#5e5f61" stroke-width="1.5"/>
<text x="374.00" y="843.30" font-size="7.75" font-weight="normal" font-style="normal" text-anchor="end" fill="#2c2c2e" stroke="#2c2c2e" stroke-width="0.18" >0</text>
<text x="374.00" y="829.97" font-size="7.75" font-weight="normal" font-style="normal" text-anchor="end" fill="#2c2c2e" stroke="#2c2c2e" stroke-width="0.18" >5</text>
<text x="374.00" y="816.65" font-size="7.75" font-weight="normal" font-style="normal" text-anchor="end" fill="#2c2c2e" stroke="#2c2c2e" stroke-width="0.18" >10</text>
<text x="374.00" y="803.32" font-size="7.75" font-weight="normal" font-style="normal" text-anchor="end" fill="#2c2c2e" stroke="#2c2c2e" stroke-width="0.18" >15</text>
<text x="374.90" y="793.00" font-size="7.5" font-weight="bold" font-style="italic" text-anchor="end" fill="#1c1c1e" stroke="#1c1c1e" stroke-width="0.22" textLength="28.2" lengthAdjust="spacingAndGlyphs">NPSH/m</text>
<text x="606.00" y="791.60" font-size="7.5" font-weight="bold" font-style="italic" text-anchor="start" fill="#1c1c1e" stroke="#1c1c1e" stroke-width="0.22" textLength="31.0" lengthAdjust="spacingAndGlyphs">η hyd./%</text>
<line x1="603.50" y1="840.50" x2="606.10" y2="840.50" stroke="#5e5f61" stroke-width="0.9"/>
<text x="609.30" y="842.80" font-size="7.75" font-weight="normal" font-style="normal" text-anchor="start" fill="#2c2c2e" stroke="#2c2c2e" stroke-width="0.18" >0</text>
<line x1="603.50" y1="826.88" x2="606.10" y2="826.88" stroke="#5e5f61" stroke-width="0.9"/>
<text x="609.30" y="829.17" font-size="7.75" font-weight="normal" font-style="normal" text-anchor="start" fill="#2c2c2e" stroke="#2c2c2e" stroke-width="0.18" >20</text>
<line x1="603.50" y1="813.25" x2="606.10" y2="813.25" stroke="#5e5f61" stroke-width="0.9"/>
<text x="609.30" y="815.55" font-size="7.75" font-weight="normal" font-style="normal" text-anchor="start" fill="#2c2c2e" stroke="#2c2c2e" stroke-width="0.18" >40</text>
<line x1="603.50" y1="799.62" x2="606.10" y2="799.62" stroke="#5e5f61" stroke-width="0.9"/>
<text x="609.30" y="801.92" font-size="7.75" font-weight="normal" font-style="normal" text-anchor="start" fill="#2c2c2e" stroke="#2c2c2e" stroke-width="0.18" >60</text>
<text x="376.50" y="850.90" font-size="7.75" font-weight="normal" font-style="normal" text-anchor="middle" fill="#2c2c2e" stroke="#2c2c2e" stroke-width="0.18" >0</text>
<text x="421.74" y="850.90" font-size="7.75" font-weight="normal" font-style="normal" text-anchor="middle" fill="#2c2c2e" stroke="#2c2c2e" stroke-width="0.18" >40</text>
<text x="466.98" y="850.90" font-size="7.75" font-weight="normal" font-style="normal" text-anchor="middle" fill="#2c2c2e" stroke="#2c2c2e" stroke-width="0.18" >80</text>
<text x="511.52" y="850.90" font-size="7.75" font-weight="normal" font-style="normal" text-anchor="middle" fill="#2c2c2e" stroke="#2c2c2e" stroke-width="0.18" >120</text>
<text x="556.76" y="850.90" font-size="7.75" font-weight="normal" font-style="normal" text-anchor="middle" fill="#2c2c2e" stroke="#2c2c2e" stroke-width="0.18" >160</text>
<text x="604.10" y="850.60" font-size="7.5" font-weight="bold" font-style="normal" text-anchor="end" fill="#1c1c1e" stroke="#1c1c1e" stroke-width="0.22" textLength="24.6" lengthAdjust="spacingAndGlyphs"><tspan font-style="italic">Q</tspan>/m³/h</text>
<text x="481.00" y="797.00" font-size="7.6" font-weight="normal" font-style="normal" text-anchor="start" fill="#2c2c2e" stroke="#2c2c2e" stroke-width="0.18" textLength="19.2" lengthAdjust="spacingAndGlyphs">η hyd.</text>
<text x="482.00" y="834.80" font-size="7.6" font-weight="normal" font-style="normal" text-anchor="start" fill="#2c2c2e" stroke="#2c2c2e" stroke-width="0.18" textLength="18.8" lengthAdjust="spacingAndGlyphs">NPSH</text>
<path d="M55.6,959 L55.6,927.6 L208,927.6 Q217.4,927.6 217.4,937 L217.4,959 Z" fill="#a7a9ac"/>
<text x="61.30" y="944.90" font-size="8.6" font-weight="bold" font-style="normal" text-anchor="start" fill="#fff" stroke="#fff" stroke-width="0.18" >Wilo-VeroLine-DL-E</text>
</svg>
</body></html>
